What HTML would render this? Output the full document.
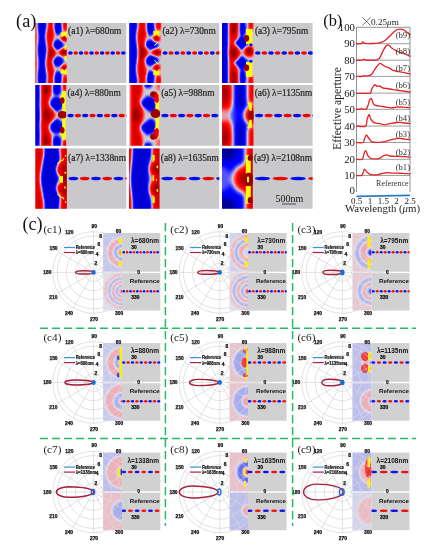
<!DOCTYPE html>
<html><head><meta charset="utf-8"><style>
html,body{margin:0;padding:0;background:#fff;}
body{width:433px;height:550px;overflow:hidden;font-family:"Liberation Serif",serif;}
svg{display:block;will-change:transform;}
</style></head><body>
<svg width="433" height="550" viewBox="0 0 433 550">
<defs>
<filter id="cmap" x="-10%" y="-10%" width="120%" height="120%" color-interpolation-filters="sRGB"><feGaussianBlur stdDeviation="1.4"/><feComponentTransfer><feFuncR type="table" tableValues="0.0 0.0 0.0 0.0 0.0 0.0 0.008 0.039 0.078 0.123 0.171 0.224 0.279 0.337 0.397 0.459 0.524 0.59 0.659 0.729 0.8 0.835 0.869 0.904 0.939 0.974 1.0 1.0 1.0 1.0 1.0 1.0 1.0 1.0 1.0 1.0 0.933 0.85 0.767 0.683 0.6"/><feFuncG type="table" tableValues="0.0 0.0 0.0 0.0 0.0 0.0 0.008 0.039 0.078 0.123 0.171 0.224 0.279 0.337 0.397 0.459 0.524 0.59 0.659 0.729 0.8 0.729 0.659 0.59 0.524 0.459 0.397 0.337 0.279 0.224 0.171 0.123 0.078 0.039 0.008 0.0 0.0 0.0 0.0 0.0 0.0"/><feFuncB type="table" tableValues="0.6 0.683 0.767 0.85 0.933 1.0 1.0 1.0 1.0 1.0 1.0 1.0 1.0 1.0 1.0 0.978 0.948 0.919 0.889 0.86 0.83 0.756 0.683 0.613 0.544 0.477 0.412 0.349 0.289 0.232 0.178 0.127 0.081 0.04 0.008 0.0 0.0 0.0 0.0 0.0 0.0"/></feComponentTransfer></filter>
<filter id="cmapS" x="-10%" y="-10%" width="120%" height="120%" color-interpolation-filters="sRGB"><feGaussianBlur stdDeviation="2.4"/><feComponentTransfer><feFuncR type="table" tableValues="0.0 0.0 0.0 0.0 0.0 0.0 0.008 0.039 0.078 0.123 0.171 0.224 0.279 0.337 0.397 0.459 0.524 0.59 0.659 0.729 0.8 0.835 0.869 0.904 0.939 0.974 1.0 1.0 1.0 1.0 1.0 1.0 1.0 1.0 1.0 1.0 0.933 0.85 0.767 0.683 0.6"/><feFuncG type="table" tableValues="0.0 0.0 0.0 0.0 0.0 0.0 0.008 0.039 0.078 0.123 0.171 0.224 0.279 0.337 0.397 0.459 0.524 0.59 0.659 0.729 0.8 0.729 0.659 0.59 0.524 0.459 0.397 0.337 0.279 0.224 0.171 0.123 0.078 0.039 0.008 0.0 0.0 0.0 0.0 0.0 0.0"/><feFuncB type="table" tableValues="0.6 0.683 0.767 0.85 0.933 1.0 1.0 1.0 1.0 1.0 1.0 1.0 1.0 1.0 1.0 0.978 0.948 0.919 0.889 0.86 0.83 0.756 0.683 0.613 0.544 0.477 0.412 0.349 0.289 0.232 0.178 0.127 0.081 0.04 0.008 0.0 0.0 0.0 0.0 0.0 0.0"/></feComponentTransfer></filter>
<filter id="cmapP" x="-10%" y="-10%" width="120%" height="120%" color-interpolation-filters="sRGB"><feGaussianBlur stdDeviation="0.9"/><feComponentTransfer><feFuncR type="table" tableValues="0.157 0.402 0.647 0.676 0.705 0.734 0.763 0.792 0.821 0.85 0.878 0.886 0.894 0.902 0.91 0.918 0.925 0.933 0.941 0.931 0.922"/><feFuncG type="table" tableValues="0.196 0.431 0.667 0.692 0.718 0.743 0.769 0.794 0.82 0.845 0.871 0.844 0.818 0.791 0.765 0.738 0.712 0.685 0.659 0.408 0.157"/><feFuncB type="table" tableValues="0.922 0.927 0.933 0.931 0.929 0.927 0.925 0.924 0.922 0.92 0.918 0.889 0.86 0.831 0.802 0.773 0.744 0.715 0.686 0.431 0.176"/></feComponentTransfer></filter>
<filter id="bl1" x="-20%" y="-20%" width="140%" height="140%"><feGaussianBlur stdDeviation="1"/></filter>
<filter id="bl04" x="-20%" y="-20%" width="140%" height="140%"><feGaussianBlur stdDeviation="0.35"/></filter>
<filter id="bl05" x="-20%" y="-50%" width="140%" height="200%"><feGaussianBlur stdDeviation="0.45"/></filter>
</defs>
<rect width="433" height="550" fill="#fff"/>
<rect x="35.3" y="23.0" width="91.0" height="60.0" fill="#c9c9cc"/>
<clipPath id="fa00"><rect x="0" y="0" width="31.6" height="60.0"/></clipPath>
<g transform="translate(35.3,23.0)" clip-path="url(#fa00)"><g filter="url(#cmap)"><rect x="-4" y="-4" width="39.6" height="68.0" fill="#808080"/><rect x="-3" y="-2" width="4.6" height="64.0" rx="0" fill="#d9d9d9"/><path d="M2.70,-2.00 C2.60,-1.17 1.97,0.33 2.10,3.00 C2.23,5.67 3.50,10.00 3.50,14.00 C3.50,18.00 2.10,22.67 2.10,27.00 C2.10,31.33 3.50,35.67 3.50,40.00 C3.50,44.33 2.23,49.33 2.10,53.00 C1.97,56.67 2.60,60.50 2.70,62.00 L10.60,62.00 C10.72,60.50 11.43,56.67 11.30,53.00 C11.17,49.33 9.80,44.33 9.80,40.00 C9.80,35.67 11.30,31.33 11.30,27.00 C11.30,22.67 9.80,18.00 9.80,14.00 C9.80,10.00 11.17,5.67 11.30,3.00 C11.43,0.33 10.72,-1.17 10.60,-2.00 Z" fill="#121212"/><path d="M12.00,-2.00 C12.08,-1.17 12.67,0.33 12.50,3.00 C12.33,5.67 11.00,10.00 11.00,14.00 C11.00,18.00 12.50,22.67 12.50,27.00 C12.50,31.33 11.00,35.67 11.00,40.00 C11.00,44.33 12.33,49.33 12.50,53.00 C12.67,56.67 12.08,60.50 12.00,62.00 L18.30,62.00 C18.38,60.83 18.63,57.00 18.80,55.00 C18.97,53.00 19.47,51.90 19.30,50.00 C19.13,48.10 17.75,45.77 17.80,43.60 C17.85,41.43 19.13,39.18 19.60,37.00 C20.07,34.82 20.60,32.67 20.60,30.50 C20.60,28.33 20.07,26.42 19.60,24.00 C19.13,21.58 17.85,18.17 17.80,16.00 C17.75,13.83 19.15,13.00 19.30,11.00 C19.45,9.00 18.87,6.17 18.70,4.00 C18.53,1.83 18.37,-1.00 18.30,-2.00 Z" fill="#ebebeb"/><ellipse cx="15.4" cy="30" rx="3" ry="6.5" fill="#ffffff"/><ellipse cx="22.6" cy="4" rx="4.2" ry="8" fill="#121212"/><ellipse cx="22.8" cy="21.8" rx="5.4" ry="5.4" fill="#121212"/><ellipse cx="22.8" cy="38.5" rx="5.4" ry="5.3" fill="#121212"/><ellipse cx="22.6" cy="56" rx="4.2" ry="8" fill="#121212"/><ellipse cx="29.8" cy="2" rx="2.8" ry="6.5" fill="#ebebeb"/><ellipse cx="28.9" cy="15.3" rx="3.3" ry="3.5" fill="#ffffff"/><ellipse cx="28.4" cy="29.2" rx="4.6" ry="4" fill="#ffffff"/><ellipse cx="28.9" cy="44.7" rx="3.3" ry="3.5" fill="#ffffff"/><ellipse cx="29.8" cy="58" rx="2.8" ry="6.5" fill="#ebebeb"/></g><g filter="url(#bl04)"><polygon points="25.2,9.8 31.6,8.6 31.6,15.2 29.3,12.6 26.3,14.6" fill="#ffff00"/><polygon points="25.2,50.2 31.6,51.4 31.6,44.8 29.3,47.4 26.3,45.4" fill="#ffff00"/><rect x="29.2" y="22.4" width="2" height="4.3" rx="0" fill="#ffff00"/><rect x="29.2" y="32.9" width="2" height="4.7" rx="0" fill="#ffff00"/></g></g>
<clipPath id="fd00"><rect x="66.9" y="23.0" width="59.4" height="60.0"/></clipPath>
<g clip-path="url(#fd00)" filter="url(#bl05)"><ellipse cx="70.4" cy="53.0" rx="2.28" ry="1.75" fill="#0008f0"/><ellipse cx="75.7" cy="53.0" rx="2.28" ry="1.75" fill="#f00000"/><ellipse cx="81.0" cy="53.0" rx="2.28" ry="1.75" fill="#0008f0"/><ellipse cx="86.2" cy="53.0" rx="2.28" ry="1.75" fill="#f00000"/><ellipse cx="91.5" cy="53.0" rx="2.28" ry="1.75" fill="#0008f0"/><ellipse cx="96.8" cy="53.0" rx="2.28" ry="1.75" fill="#f00000"/><ellipse cx="102.1" cy="53.0" rx="2.28" ry="1.75" fill="#0008f0"/><ellipse cx="107.4" cy="53.0" rx="2.28" ry="1.75" fill="#f00000"/><ellipse cx="112.7" cy="53.0" rx="2.28" ry="1.75" fill="#0008f0"/><ellipse cx="118.0" cy="53.0" rx="2.28" ry="1.75" fill="#f00000"/><ellipse cx="123.3" cy="53.0" rx="2.28" ry="1.75" fill="#0008f0"/><ellipse cx="128.6" cy="53.0" rx="2.28" ry="1.75" fill="#f00000"/></g>
<text x="68.10000000000001" y="33.8" font-family="Liberation Serif" font-size="9.4" fill="#262626" stroke="#262626" stroke-width="0.22">(a1) λ=680nm</text>
<rect x="129.0" y="23.0" width="90.2" height="60.0" fill="#c9c9cc"/>
<clipPath id="fa01"><rect x="0" y="0" width="32.3" height="60.0"/></clipPath>
<g transform="translate(129.0,23.0)" clip-path="url(#fa01)"><g filter="url(#cmap)"><rect x="-4" y="-4" width="40.3" height="68.0" fill="#808080"/><path d="M0.30,-2.00 C0.30,8.67 0.30,51.33 0.30,62.00 L8.20,62.00 C8.25,61.17 8.72,59.67 8.50,57.00 C8.28,54.33 6.88,50.50 6.90,46.00 C6.92,41.50 8.60,35.33 8.60,30.00 C8.60,24.67 6.92,18.50 6.90,14.00 C6.88,9.50 8.28,5.67 8.50,3.00 C8.72,0.33 8.25,-1.17 8.20,-2.00 Z" fill="#121212"/><path d="M9.20,-2.00 C9.25,-1.17 9.65,0.33 9.50,3.00 C9.35,5.67 8.32,9.50 8.30,14.00 C8.28,18.50 9.40,24.67 9.40,30.00 C9.40,35.33 8.28,41.50 8.30,46.00 C8.32,50.50 9.35,54.33 9.50,57.00 C9.65,59.67 9.25,61.17 9.20,62.00 L16.50,62.00 C16.57,60.83 16.68,57.17 16.90,55.00 C17.12,52.83 17.93,51.00 17.80,49.00 C17.67,47.00 16.27,45.00 16.10,43.00 C15.93,41.00 16.32,39.25 16.80,37.00 C17.28,34.75 19.00,32.00 19.00,29.50 C19.00,27.00 17.28,24.25 16.80,22.00 C16.32,19.75 15.92,17.83 16.10,16.00 C16.28,14.17 17.77,12.83 17.90,11.00 C18.03,9.17 17.13,7.17 16.90,5.00 C16.67,2.83 16.57,-0.83 16.50,-2.00 Z" fill="#ebebeb"/><ellipse cx="13" cy="30" rx="3" ry="6.5" fill="#ffffff"/><ellipse cx="21.5" cy="4.5" rx="4" ry="8.5" fill="#121212"/><ellipse cx="22.6" cy="21.8" rx="6.6" ry="5" fill="#121212"/><ellipse cx="22.6" cy="37.6" rx="6.6" ry="5.3" fill="#121212"/><ellipse cx="21.5" cy="55.5" rx="4" ry="8" fill="#121212"/><ellipse cx="29.5" cy="2" rx="3" ry="5.8" fill="#ebebeb"/><ellipse cx="27.5" cy="15.5" rx="3.4" ry="3.5" fill="#ffffff"/><ellipse cx="27.8" cy="29.5" rx="5.1" ry="3.7" fill="#ffffff"/><ellipse cx="27.5" cy="44.4" rx="3.4" ry="3.5" fill="#ffffff"/><ellipse cx="29.5" cy="57.5" rx="3" ry="5.8" fill="#ebebeb"/></g><g filter="url(#bl04)"><polygon points="24,8.3 30.3,7.4 30.3,14.2 28,11.5 25.2,13.5" fill="#ffff00"/><polygon points="24,51.7 30.3,52.6 30.3,45.8 28,48.5 25.2,46.5" fill="#ffff00"/><polygon points="25,22.4 28.4,19 29.2,19.6 25.8,23" fill="#ffff00"/><polygon points="25,37.6 28.4,41 29.2,40.4 25.8,37" fill="#ffff00"/></g></g>
<clipPath id="fd01"><rect x="161.3" y="23.0" width="57.900000000000006" height="60.0"/></clipPath>
<g clip-path="url(#fd01)" filter="url(#bl05)"><ellipse cx="165.1" cy="53.0" rx="2.54" ry="1.75" fill="#0008f0"/><ellipse cx="171.0" cy="53.0" rx="2.54" ry="1.75" fill="#f00000"/><ellipse cx="176.9" cy="53.0" rx="2.54" ry="1.75" fill="#0008f0"/><ellipse cx="182.8" cy="53.0" rx="2.54" ry="1.75" fill="#f00000"/><ellipse cx="188.7" cy="53.0" rx="2.54" ry="1.75" fill="#0008f0"/><ellipse cx="194.6" cy="53.0" rx="2.54" ry="1.75" fill="#f00000"/><ellipse cx="200.5" cy="53.0" rx="2.54" ry="1.75" fill="#0008f0"/><ellipse cx="206.4" cy="53.0" rx="2.54" ry="1.75" fill="#f00000"/><ellipse cx="212.3" cy="53.0" rx="2.54" ry="1.75" fill="#0008f0"/><ellipse cx="218.2" cy="53.0" rx="2.54" ry="1.75" fill="#f00000"/></g>
<text x="162.5" y="33.8" font-family="Liberation Serif" font-size="9.4" fill="#262626" stroke="#262626" stroke-width="0.22">(a2) λ=730nm</text>
<rect x="222.0" y="23.0" width="90.6" height="60.0" fill="#c9c9cc"/>
<clipPath id="fa02"><rect x="0" y="0" width="31.7" height="60.0"/></clipPath>
<g transform="translate(222.0,23.0)" clip-path="url(#fa02)"><g filter="url(#cmap)"><rect x="-4" y="-4" width="39.7" height="68.0" fill="#808080"/><path d="M-2.00,-2.00 C-2.00,8.67 -2.00,51.33 -2.00,62.00 L6.40,62.00 C6.45,60.33 6.80,55.33 6.70,52.00 C6.60,48.67 5.78,45.67 5.80,42.00 C5.82,38.33 6.80,34.00 6.80,30.00 C6.80,26.00 5.82,21.67 5.80,18.00 C5.78,14.33 6.60,11.33 6.70,8.00 C6.80,4.67 6.45,-0.33 6.40,-2.00 Z" fill="#121212"/><path d="M7.00,-2.00 C6.97,0.00 6.70,6.67 6.80,10.00 C6.90,13.33 7.70,14.67 7.60,18.00 C7.50,21.33 6.20,26.00 6.20,30.00 C6.20,34.00 7.50,38.67 7.60,42.00 C7.70,45.33 6.90,46.67 6.80,50.00 C6.70,53.33 6.97,60.00 7.00,62.00 L16.80,62.00 C16.78,60.33 16.98,55.17 16.70,52.00 C16.42,48.83 15.15,45.67 15.10,43.00 C15.05,40.33 15.85,38.17 16.40,36.00 C16.95,33.83 18.40,32.00 18.40,30.00 C18.40,28.00 16.95,26.17 16.40,24.00 C15.85,21.83 15.05,19.67 15.10,17.00 C15.15,14.33 16.42,11.17 16.70,8.00 C16.98,4.83 16.78,-0.33 16.80,-2.00 Z" fill="#ebebeb"/><ellipse cx="11.4" cy="5" rx="3" ry="6" fill="#ffffff"/><ellipse cx="11.5" cy="30" rx="3.8" ry="6.5" fill="#ffffff"/><ellipse cx="11.4" cy="55" rx="3" ry="6" fill="#ffffff"/><ellipse cx="20.5" cy="5" rx="3.3" ry="8.5" fill="#121212"/><polygon points="19.8,12.4 27.6,20 19.8,27.4 11.8,20" fill="#121212"/><polygon points="19.8,32.6 27.6,40 19.8,47.6 11.8,40" fill="#121212"/><ellipse cx="20.5" cy="55" rx="3.3" ry="8.5" fill="#121212"/><ellipse cx="27.2" cy="28.4" rx="5.3" ry="5.4" fill="#ebebeb"/><ellipse cx="27.6" cy="28.4" rx="3.6" ry="3.8" fill="#ffffff"/><ellipse cx="29" cy="2" rx="2.4" ry="5.2" fill="#ebebeb"/><ellipse cx="29" cy="58" rx="2.4" ry="5.2" fill="#ebebeb"/></g><g filter="url(#bl04)"><rect x="24" y="6" width="6.3" height="15.3" rx="0" fill="#ffff00"/><rect x="24" y="38.7" width="6.3" height="15.3" rx="0" fill="#ffff00"/><ellipse cx="24.6" cy="15.2" rx="2.6" ry="3.2" fill="#9c0000"/><ellipse cx="24.6" cy="44.8" rx="2.6" ry="3.2" fill="#9c0000"/><ellipse cx="28.9" cy="21.8" rx="1.6" ry="1.5" fill="#0008f0"/><ellipse cx="28.9" cy="38.2" rx="1.6" ry="1.5" fill="#0008f0"/></g></g>
<clipPath id="fd02"><rect x="253.7" y="23.0" width="58.89999999999999" height="60.0"/></clipPath>
<g clip-path="url(#fd02)" filter="url(#bl05)"><ellipse cx="257.8" cy="53.0" rx="2.84" ry="1.75" fill="#0008f0"/><ellipse cx="264.4" cy="53.0" rx="2.84" ry="1.75" fill="#f00000"/><ellipse cx="271.0" cy="53.0" rx="2.84" ry="1.75" fill="#0008f0"/><ellipse cx="277.6" cy="53.0" rx="2.84" ry="1.75" fill="#f00000"/><ellipse cx="284.2" cy="53.0" rx="2.84" ry="1.75" fill="#0008f0"/><ellipse cx="290.8" cy="53.0" rx="2.84" ry="1.75" fill="#f00000"/><ellipse cx="297.4" cy="53.0" rx="2.84" ry="1.75" fill="#0008f0"/><ellipse cx="304.0" cy="53.0" rx="2.84" ry="1.75" fill="#f00000"/><ellipse cx="310.6" cy="53.0" rx="2.84" ry="1.75" fill="#0008f0"/></g>
<text x="254.89999999999998" y="33.8" font-family="Liberation Serif" font-size="9.4" fill="#262626" stroke="#262626" stroke-width="0.22">(a3) λ=795nm</text>
<rect x="35.3" y="85.0" width="91.0" height="60.8" fill="#c9c9cc"/>
<clipPath id="fa10"><rect x="0" y="0" width="30.9" height="60.8"/></clipPath>
<g transform="translate(35.3,85.0)" clip-path="url(#fa10)"><g filter="url(#cmap)"><rect x="-4" y="-4" width="38.9" height="68.8" fill="#808080"/><path d="M-4.00,-4.00 C-4.00,7.33 -4.00,52.67 -4.00,64.00 L4.20,64.00 C4.27,61.67 4.60,54.00 4.60,50.00 C4.60,46.00 4.13,43.33 4.20,40.00 C4.27,36.67 5.00,33.33 5.00,30.00 C5.00,26.67 4.27,23.33 4.20,20.00 C4.13,16.67 4.60,14.00 4.60,10.00 C4.60,6.00 4.27,-1.67 4.20,-4.00 Z" fill="#121212"/><path d="M5.60,-4.00 C5.60,7.33 5.60,52.67 5.60,64.00 L16.20,64.00 C16.30,62.67 16.92,58.33 16.80,56.00 C16.68,53.67 16.00,51.83 15.50,50.00 C15.00,48.17 14.18,46.33 13.80,45.00 C13.42,43.67 12.92,43.17 13.20,42.00 C13.48,40.83 14.40,40.00 15.50,38.00 C16.60,36.00 19.80,32.67 19.80,30.00 C19.80,27.33 16.60,24.00 15.50,22.00 C14.40,20.00 13.48,19.17 13.20,18.00 C12.92,16.83 13.42,16.33 13.80,15.00 C14.18,13.67 15.00,11.83 15.50,10.00 C16.00,8.17 16.68,6.33 16.80,4.00 C16.92,1.67 16.30,-2.67 16.20,-4.00 Z" fill="#ebebeb"/><ellipse cx="10.5" cy="5" rx="3.2" ry="5" fill="#ffffff"/><ellipse cx="11.5" cy="30" rx="3.6" ry="6" fill="#ffffff"/><ellipse cx="10.5" cy="55" rx="3.2" ry="5" fill="#ffffff"/><ellipse cx="21.5" cy="3.5" rx="4.4" ry="7" fill="#121212"/><polygon points="20.5,11.5 27.5,14.5 27.5,22 22,27 14.5,21 15.5,15" fill="#121212"/><polygon points="20.5,49 27.5,46 27.5,38.5 22,33.5 14.5,39.5 15.5,45.5" fill="#121212"/><ellipse cx="21.5" cy="57.5" rx="4.4" ry="7" fill="#121212"/><rect x="27.5" y="-4" width="5" height="10" rx="0" fill="#ebebeb"/><rect x="27.5" y="55" width="5" height="10" rx="0" fill="#ebebeb"/></g><g filter="url(#bl04)"><polygon points="26.9,6 30.3,6 30.3,55 26.9,55 26.5,51 24.6,49 24.8,45 26.9,42 26.9,34 25.5,33 25.5,27.5 26.9,26.5 26.9,19 24.8,16 24.6,12 26.5,9.5" fill="#ffff00"/><ellipse cx="26.9" cy="15.5" rx="2.3" ry="3.3" fill="#9c0000"/><ellipse cx="26.9" cy="45.3" rx="2.3" ry="3.3" fill="#9c0000"/><ellipse cx="27" cy="29.8" rx="4.5" ry="3.7" fill="#9c0000"/></g></g>
<clipPath id="fd10"><rect x="66.19999999999999" y="85.0" width="60.1" height="60.8"/></clipPath>
<g clip-path="url(#fd10)" filter="url(#bl05)"><ellipse cx="70.6" cy="115.4" rx="3.14" ry="1.75" fill="#0008f0"/><ellipse cx="77.9" cy="115.4" rx="3.14" ry="1.75" fill="#f00000"/><ellipse cx="85.2" cy="115.4" rx="3.14" ry="1.75" fill="#0008f0"/><ellipse cx="92.5" cy="115.4" rx="3.14" ry="1.75" fill="#f00000"/><ellipse cx="99.8" cy="115.4" rx="3.14" ry="1.75" fill="#0008f0"/><ellipse cx="107.1" cy="115.4" rx="3.14" ry="1.75" fill="#f00000"/><ellipse cx="114.4" cy="115.4" rx="3.14" ry="1.75" fill="#0008f0"/><ellipse cx="121.7" cy="115.4" rx="3.14" ry="1.75" fill="#f00000"/><ellipse cx="129.0" cy="115.4" rx="3.14" ry="1.75" fill="#0008f0"/></g>
<text x="67.39999999999999" y="96.3" font-family="Liberation Serif" font-size="9.4" fill="#262626" stroke="#262626" stroke-width="0.22">(a4) λ=880nm</text>
<rect x="129.0" y="85.0" width="90.2" height="60.8" fill="#c9c9cc"/>
<clipPath id="fa11"><rect x="0" y="0" width="31.0" height="60.8"/></clipPath>
<g transform="translate(129.0,85.0)" clip-path="url(#fa11)"><g filter="url(#cmap)"><rect x="-4" y="-4" width="39.0" height="68.8" fill="#808080"/><rect x="-4" y="-4" width="4.6" height="68.8" rx="0" fill="#4c4c4c"/><path d="M1.40,-4.00 C1.40,7.33 1.40,52.67 1.40,64.00 L13.30,64.00 C13.30,62.50 13.55,57.67 13.30,55.00 C13.05,52.33 12.28,50.00 11.80,48.00 C11.32,46.00 10.20,44.83 10.40,43.00 C10.60,41.17 12.30,39.27 13.00,37.00 C13.70,34.73 14.60,31.90 14.60,29.40 C14.60,26.90 13.70,24.13 13.00,22.00 C12.30,19.87 10.60,18.27 10.40,16.60 C10.20,14.93 11.32,13.77 11.80,12.00 C12.28,10.23 13.05,8.67 13.30,6.00 C13.55,3.33 13.30,-2.33 13.30,-4.00 Z" fill="#ebebeb"/><ellipse cx="7" cy="30" rx="3.8" ry="7.5" fill="#ffffff"/><ellipse cx="19" cy="0" rx="3.8" ry="2.8" fill="#121212"/><polygon points="18.5,11 26.5,14 26.5,24 22,27.5 12,20 13,16" fill="#121212"/><polygon points="18.5,50 26.5,47 26.5,37 22,33.5 12,41 13,45" fill="#121212"/><ellipse cx="19" cy="61" rx="3.8" ry="3.3" fill="#121212"/><rect x="27.5" y="-4" width="5" height="9" rx="0" fill="#acacac"/><rect x="27.5" y="54" width="5" height="10" rx="0" fill="#acacac"/></g><g filter="url(#bl04)"><polygon points="25.4,8.3 29.9,8.3 29.9,53.3 25.4,53.3 25.4,44 26.5,42 26.5,34 25,33 25,28 26.5,27 26.5,19 25.4,17" fill="#ffff00"/><polygon points="21,9 24,6.2 27.5,7 29.5,10 29.9,16 28,18.3 25,16 24.5,12.5 22,12" fill="#f00000"/><polygon points="21,52 24,54.8 27.5,54 29.5,51 29.9,45 28,42.7 25,45 24.5,48.5 22,49" fill="#f00000"/><ellipse cx="23.8" cy="9.3" rx="2.6" ry="2.8" fill="#9c0000"/><ellipse cx="23.8" cy="51.7" rx="2.6" ry="2.8" fill="#9c0000"/><ellipse cx="26.5" cy="28.6" rx="5" ry="4.5" fill="#9c0000"/></g></g>
<clipPath id="fd11"><rect x="160.0" y="85.0" width="59.2" height="60.8"/></clipPath>
<g clip-path="url(#fd11)" filter="url(#bl05)"><ellipse cx="165.0" cy="115.4" rx="3.57" ry="1.75" fill="#0008f0"/><ellipse cx="173.3" cy="115.4" rx="3.57" ry="1.75" fill="#f00000"/><ellipse cx="181.6" cy="115.4" rx="3.57" ry="1.75" fill="#0008f0"/><ellipse cx="189.9" cy="115.4" rx="3.57" ry="1.75" fill="#f00000"/><ellipse cx="198.2" cy="115.4" rx="3.57" ry="1.75" fill="#0008f0"/><ellipse cx="206.5" cy="115.4" rx="3.57" ry="1.75" fill="#f00000"/><ellipse cx="214.8" cy="115.4" rx="3.57" ry="1.75" fill="#0008f0"/></g>
<text x="161.2" y="96.3" font-family="Liberation Serif" font-size="9.4" fill="#262626" stroke="#262626" stroke-width="0.22">(a5) λ=988nm</text>
<rect x="222.0" y="85.0" width="90.6" height="60.8" fill="#c9c9cc"/>
<clipPath id="fa12"><rect x="0" y="0" width="31.5" height="60.8"/></clipPath>
<g transform="translate(222.0,85.0)" clip-path="url(#fa12)"><g filter="url(#cmapS)"><rect x="-4" y="-4" width="39.5" height="68.8" fill="#808080"/><path d="M-4.00,-4.00 C-4.00,7.33 -4.00,52.67 -4.00,64.00 L10.30,64.00 C10.35,61.67 10.73,53.50 10.60,50.00 C10.47,46.50 10.02,45.17 9.50,43.00 C8.98,40.83 8.00,39.10 7.50,37.00 C7.00,34.90 6.50,32.57 6.50,30.40 C6.50,28.23 7.00,26.07 7.50,24.00 C8.00,21.93 8.98,20.33 9.50,18.00 C10.02,15.67 10.47,13.67 10.60,10.00 C10.73,6.33 10.35,-1.67 10.30,-4.00 Z" fill="#ededed"/><ellipse cx="4" cy="8" rx="4" ry="7" fill="#ffffff"/><ellipse cx="4" cy="52.5" rx="4" ry="7" fill="#ffffff"/><ellipse cx="0" cy="30.4" rx="10" ry="7" fill="#8f8f8f"/><path d="M11.30,-4.00 C11.33,-1.00 11.33,9.67 11.50,14.00 C11.67,18.33 11.97,19.27 12.30,22.00 C12.63,24.73 13.50,27.57 13.50,30.40 C13.50,33.23 12.63,36.40 12.30,39.00 C11.97,41.60 11.67,41.83 11.50,46.00 C11.33,50.17 11.33,61.00 11.30,64.00 L25.50,64.00 C25.50,52.67 25.50,7.33 25.50,-4.00 Z" fill="#0d0d0d"/><ellipse cx="13" cy="30.4" rx="4" ry="9" fill="#393939"/><ellipse cx="30.5" cy="30.2" rx="9.8" ry="11" fill="#808080"/><ellipse cx="31" cy="30.2" rx="8" ry="9" fill="#f2f2f2"/><rect x="25.6" y="-4" width="9" height="21.5" rx="0" fill="#ededed"/><rect x="25.6" y="43" width="9" height="22" rx="0" fill="#ededed"/></g><g filter="url(#bl04)"><polygon points="24.5,17.5 29.8,17.5 29.8,26.6 27,25 26.6,19.5" fill="#ffff00"/><polygon points="24.5,42.8 29.8,42.8 29.8,33.8 27,35.4 26.6,41" fill="#ffff00"/><ellipse cx="29.5" cy="30.2" rx="3.5" ry="4.5" fill="#9c0000"/></g></g>
<clipPath id="fd12"><rect x="253.5" y="85.0" width="59.099999999999994" height="60.8"/></clipPath>
<g clip-path="url(#fd12)" filter="url(#bl05)"><ellipse cx="259.1" cy="115.4" rx="4.08" ry="1.75" fill="#0008f0"/><ellipse cx="268.6" cy="115.4" rx="4.08" ry="1.75" fill="#f00000"/><ellipse cx="278.1" cy="115.4" rx="4.08" ry="1.75" fill="#0008f0"/><ellipse cx="287.6" cy="115.4" rx="4.08" ry="1.75" fill="#f00000"/><ellipse cx="297.1" cy="115.4" rx="4.08" ry="1.75" fill="#0008f0"/><ellipse cx="306.6" cy="115.4" rx="4.08" ry="1.75" fill="#f00000"/><ellipse cx="316.1" cy="115.4" rx="4.08" ry="1.75" fill="#0008f0"/></g>
<text x="254.7" y="96.3" font-family="Liberation Serif" font-size="9.4" fill="#262626" stroke="#262626" stroke-width="0.22">(a6) λ=1135nm</text>
<rect x="35.3" y="148.4" width="91.0" height="60.3" fill="#c9c9cc"/>
<clipPath id="fa20"><rect x="0" y="0" width="31.6" height="60.3"/></clipPath>
<g transform="translate(35.3,148.4)" clip-path="url(#fa20)"><g filter="url(#cmap)"><rect x="-4" y="-4" width="39.6" height="68.3" fill="#808080"/><path d="M-4.00,-4.00 C-4.00,7.17 -4.00,51.83 -4.00,63.00 L7.80,64.00 C7.87,62.50 8.40,58.17 8.20,55.00 C8.00,51.83 7.20,49.17 6.60,45.00 C6.00,40.83 4.60,35.00 4.60,30.00 C4.60,25.00 6.00,19.17 6.60,15.00 C7.20,10.83 8.00,8.17 8.20,5.00 C8.40,1.83 7.87,-2.50 7.80,-4.00 Z" fill="#ebebeb"/><rect x="-4" y="-4" width="3.6" height="68.3" rx="0" fill="#bfbfbf"/><path d="M8.60,-4.00 C8.67,-2.50 9.20,1.83 9.00,5.00 C8.80,8.17 8.00,10.83 7.40,15.00 C6.80,19.17 5.40,25.00 5.40,30.00 C5.40,35.00 6.80,40.83 7.40,45.00 C8.00,49.17 8.80,51.83 9.00,55.00 C9.20,58.17 8.67,62.50 8.60,64.00 L23.20,64.00 C23.40,62.33 24.10,56.50 24.40,54.00 C24.70,51.50 25.15,50.33 25.00,49.00 C24.85,47.67 24.13,47.50 23.50,46.00 C22.87,44.50 21.45,42.00 21.20,40.00 C20.95,38.00 21.65,35.67 22.00,34.00 C22.35,32.33 23.30,31.33 23.30,30.00 C23.30,28.67 22.35,27.67 22.00,26.00 C21.65,24.33 20.95,22.00 21.20,20.00 C21.45,18.00 22.87,15.50 23.50,14.00 C24.13,12.50 24.85,12.33 25.00,11.00 C25.15,9.67 24.70,8.50 24.40,6.00 C24.10,3.50 23.40,-2.33 23.20,-4.00 Z" fill="#121212"/><rect x="25.2" y="-4" width="9" height="68.3" rx="0" fill="#ebebeb"/><ellipse cx="27.2" cy="21" rx="5.8" ry="7.2" fill="#ebebeb"/><ellipse cx="27.2" cy="40.3" rx="5.8" ry="6.8" fill="#ebebeb"/><ellipse cx="30" cy="30" rx="2.6" ry="7.5" fill="#ffffff"/><ellipse cx="29.5" cy="19" rx="2.2" ry="3.5" fill="#ffffff"/><ellipse cx="29.5" cy="42" rx="2.2" ry="3.5" fill="#ffffff"/></g><g filter="url(#bl04)"><rect x="24.4" y="27.7" width="3.3" height="6.7" rx="0" fill="#ffff00"/><path d="M22.2,15.5 Q24.5,12.6 26.5,11.6 M27,12.5 L28.8,10 M29.6,8 L31,6.8" stroke="#ffff00" stroke-width="1.1" fill="none"/><path d="M22.2,45.5 Q24.5,48.4 26.5,49.4 M27,48.5 L28.8,51 M29.6,53 L31,54.2" stroke="#ffff00" stroke-width="1.1" fill="none"/><rect x="29.2" y="23.5" width="1.6" height="1.8" rx="0" fill="#ffff00"/><rect x="28.8" y="38.2" width="1.6" height="1.8" rx="0" fill="#ffff00"/><rect x="23" y="26" width="1.2" height="1.5" rx="0" fill="#ffff00"/><rect x="23" y="34.5" width="1.2" height="1.5" rx="0" fill="#ffff00"/></g></g>
<clipPath id="fd20"><rect x="66.9" y="148.4" width="59.4" height="60.3"/></clipPath>
<g clip-path="url(#fd20)" filter="url(#bl05)"><ellipse cx="73.4" cy="178.6" rx="4.86" ry="1.75" fill="#0008f0"/><ellipse cx="84.7" cy="178.6" rx="4.86" ry="1.75" fill="#f00000"/><ellipse cx="96.0" cy="178.6" rx="4.86" ry="1.75" fill="#0008f0"/><ellipse cx="107.2" cy="178.6" rx="4.86" ry="1.75" fill="#f00000"/><ellipse cx="118.5" cy="178.6" rx="4.86" ry="1.75" fill="#0008f0"/><ellipse cx="129.8" cy="178.6" rx="4.86" ry="1.75" fill="#f00000"/></g>
<text x="68.10000000000001" y="160.8" font-family="Liberation Serif" font-size="9.4" fill="#262626" stroke="#262626" stroke-width="0.22">(a7) λ=1338nm</text>
<rect x="129.0" y="148.4" width="90.2" height="60.3" fill="#c9c9cc"/>
<clipPath id="fa21"><rect x="0" y="0" width="30.6" height="60.3"/></clipPath>
<g transform="translate(129.0,148.4)" clip-path="url(#fa21)"><g filter="url(#cmap)"><rect x="-4" y="-4" width="38.6" height="68.3" fill="#808080"/><path d="M-4.00,-4.00 C-4.00,7.33 -4.00,52.67 -4.00,64.00 L3.00,64.00 C2.97,62.00 3.05,56.00 2.80,52.00 C2.55,48.00 1.83,43.67 1.50,40.00 C1.17,36.33 0.80,33.33 0.80,30.00 C0.80,26.67 1.17,23.67 1.50,20.00 C1.83,16.33 2.55,12.00 2.80,8.00 C3.05,4.00 2.97,-2.00 3.00,-4.00 Z" fill="#ebebeb"/><path d="M3.60,-4.00 C3.57,-2.00 3.60,4.00 3.40,8.00 C3.20,12.00 2.67,16.33 2.40,20.00 C2.13,23.67 1.80,26.67 1.80,30.00 C1.80,33.33 2.13,36.33 2.40,40.00 C2.67,43.67 3.20,48.00 3.40,52.00 C3.60,56.00 3.57,62.00 3.60,64.00 L22.60,64.00 C22.53,62.33 22.53,56.67 22.20,54.00 C21.87,51.33 21.10,50.33 20.60,48.00 C20.10,45.67 19.33,43.00 19.20,40.00 C19.07,37.00 19.80,33.33 19.80,30.00 C19.80,26.67 19.07,23.00 19.20,20.00 C19.33,17.00 20.10,14.33 20.60,12.00 C21.10,9.67 21.87,8.67 22.20,6.00 C22.53,3.33 22.53,-2.33 22.60,-4.00 Z" fill="#121212"/><rect x="23.6" y="-4" width="10" height="68.3" rx="0" fill="#ebebeb"/><ellipse cx="26.3" cy="20.5" rx="5.6" ry="8.3" fill="#ebebeb"/><ellipse cx="26.3" cy="40.3" rx="5.6" ry="8.3" fill="#ebebeb"/><ellipse cx="27.5" cy="20.5" rx="2.6" ry="5" fill="#ffffff"/><ellipse cx="27.5" cy="40.3" rx="2.6" ry="5" fill="#ffffff"/></g><g filter="url(#bl04)"><rect x="23.4" y="6.6" width="2.4" height="5.8" rx="0" fill="#ffff00"/><rect x="23.4" y="48.3" width="2.4" height="6.2" rx="0" fill="#ffff00"/><rect x="23.4" y="12.4" width="1.2" height="1.5" rx="0" fill="#ffff00"/><rect x="23.4" y="47" width="1.2" height="1.5" rx="0" fill="#ffff00"/><rect x="23.5" y="26.8" width="1.6" height="5.8" rx="0" fill="#ffff00"/><rect x="27.6" y="17.2" width="1.5" height="2.6" rx="0" fill="#ffff00"/><rect x="27.6" y="40.8" width="1.5" height="2.6" rx="0" fill="#ffff00"/><rect x="26.8" y="30.6" width="1.2" height="1.6" rx="0" fill="#ffff00"/></g></g>
<clipPath id="fd21"><rect x="159.6" y="148.4" width="59.6" height="60.3"/></clipPath>
<g clip-path="url(#fd21)" filter="url(#bl05)"><ellipse cx="167.2" cy="178.6" rx="5.89" ry="1.75" fill="#0008f0"/><ellipse cx="180.9" cy="178.6" rx="5.89" ry="1.75" fill="#f00000"/><ellipse cx="194.6" cy="178.6" rx="5.89" ry="1.75" fill="#0008f0"/><ellipse cx="208.3" cy="178.6" rx="5.89" ry="1.75" fill="#f00000"/><ellipse cx="222.0" cy="178.6" rx="5.89" ry="1.75" fill="#0008f0"/></g>
<text x="160.79999999999998" y="160.8" font-family="Liberation Serif" font-size="9.4" fill="#262626" stroke="#262626" stroke-width="0.22">(a8) λ=1635nm</text>
<rect x="222.0" y="148.4" width="90.6" height="60.3" fill="#c9c9cc"/>
<clipPath id="fa22"><rect x="0" y="0" width="30.8" height="60.3"/></clipPath>
<g transform="translate(222.0,148.4)" clip-path="url(#fa22)"><g filter="url(#cmapS)"><rect x="-4" y="-4" width="38.8" height="68.3" fill="#808080"/><rect x="-4" y="-4" width="30" height="68.3" rx="0" fill="#1c1c1c"/><ellipse cx="4" cy="3" rx="10" ry="9" fill="#000000"/><ellipse cx="4" cy="58" rx="10" ry="9" fill="#000000"/><ellipse cx="-1" cy="30.5" rx="10" ry="13" fill="#535353"/><ellipse cx="24.5" cy="30.5" rx="16" ry="16.5" fill="#808080"/><ellipse cx="24.5" cy="30.5" rx="11.6" ry="11.8" fill="#f0f0f0"/><ellipse cx="25" cy="30.5" rx="6" ry="8" fill="#ffffff"/><rect x="23.4" y="-4" width="12" height="68.3" rx="0" fill="#ededed"/></g><g filter="url(#bl04)"><rect x="23.8" y="6.6" width="5" height="19" rx="0" fill="#ffff00"/><rect x="23.8" y="37.7" width="5" height="17.7" rx="0" fill="#ffff00"/><ellipse cx="28.3" cy="9.6" rx="2.6" ry="3" fill="#9c0000"/><ellipse cx="28.3" cy="52" rx="2.6" ry="3.3" fill="#9c0000"/><polygon points="22.7,27 25,24.4 29,24.4 31.5,27.5 31.5,34.5 29,37.7 25,37.7 22.7,34" fill="#9c0000"/><rect x="25" y="28.3" width="2" height="5.5" rx="0" fill="#ffff00"/></g></g>
<clipPath id="fd22"><rect x="252.8" y="148.4" width="59.8" height="60.3"/></clipPath>
<g clip-path="url(#fd22)" filter="url(#bl05)"><ellipse cx="262.5" cy="178.6" rx="7.65" ry="1.75" fill="#0008f0"/><ellipse cx="280.3" cy="178.6" rx="7.65" ry="1.75" fill="#f00000"/><ellipse cx="298.1" cy="178.6" rx="7.65" ry="1.75" fill="#0008f0"/><ellipse cx="315.9" cy="178.6" rx="7.65" ry="1.75" fill="#f00000"/></g>
<text x="254.0" y="160.8" font-family="Liberation Serif" font-size="9.4" fill="#262626" stroke="#262626" stroke-width="0.22">(a9) λ=2108nm</text>
<text x="16.1" y="26.6" font-family="Liberation Serif" font-size="18.2" fill="#111">(a)</text>
<text x="275.5" y="202.4" font-family="Liberation Serif" font-size="10" fill="#111">500nm</text>
<line x1="282" y1="204" x2="296" y2="204" stroke="#111" stroke-width="0.7"/>
<line x1="356.5" y1="175.50" x2="410.0" y2="175.50" stroke="#767676" stroke-width="0.7"/>
<line x1="356.5" y1="159.30" x2="410.0" y2="159.30" stroke="#767676" stroke-width="0.7"/>
<line x1="356.5" y1="142.50" x2="410.0" y2="142.50" stroke="#767676" stroke-width="0.7"/>
<line x1="356.5" y1="126.10" x2="410.0" y2="126.10" stroke="#767676" stroke-width="0.7"/>
<line x1="356.5" y1="109.30" x2="410.0" y2="109.30" stroke="#767676" stroke-width="0.7"/>
<line x1="356.5" y1="93.10" x2="410.0" y2="93.10" stroke="#767676" stroke-width="0.7"/>
<line x1="356.5" y1="76.40" x2="410.0" y2="76.40" stroke="#767676" stroke-width="0.7"/>
<line x1="356.5" y1="60.20" x2="410.0" y2="60.20" stroke="#767676" stroke-width="0.7"/>
<line x1="356.5" y1="43.70" x2="410.0" y2="43.70" stroke="#767676" stroke-width="0.7"/>
<line x1="356.5" y1="27.30" x2="410.0" y2="27.30" stroke="#767676" stroke-width="0.8"/>
<line x1="356.5" y1="27.30" x2="356.5" y2="192" stroke="#767676" stroke-width="0.8"/>
<line x1="410.0" y1="27.30" x2="410.0" y2="192" stroke="#767676" stroke-width="0.8"/>
<path d="M356.50,175.50 C357.35,175.50 360.52,175.92 361.60,175.50 C362.68,175.08 362.57,174.02 363.00,173.00 C363.43,171.98 363.77,169.85 364.20,169.40 C364.63,168.95 365.13,169.85 365.60,170.30 C366.07,170.75 366.27,171.43 367.00,172.10 C367.73,172.77 368.83,173.83 370.00,174.30 C371.17,174.77 372.83,174.80 374.00,174.90 C375.17,175.00 376.00,175.05 377.00,174.90 C378.00,174.75 378.83,174.30 380.00,174.00 C381.17,173.70 382.67,173.33 384.00,173.10 C385.33,172.87 386.67,172.60 388.00,172.60 C389.33,172.60 390.50,173.00 392.00,173.10 C393.50,173.20 395.17,173.17 397.00,173.20 C398.83,173.23 400.83,173.20 403.00,173.30 C405.17,173.40 408.83,173.72 410.00,173.80" fill="none" stroke="#e2262a" stroke-width="1.35" stroke-linejoin="round" stroke-linecap="round"/>
<text x="410" y="170.10" text-anchor="end" font-family="Liberation Serif" font-size="8.6" fill="#333">(b1)</text>
<path d="M356.50,159.30 C357.45,159.30 360.98,160.10 362.20,159.30 C363.42,158.50 363.28,155.93 363.80,154.50 C364.32,153.07 364.82,151.03 365.30,150.70 C365.78,150.37 366.25,151.63 366.70,152.50 C367.15,153.37 367.28,154.90 368.00,155.90 C368.72,156.90 370.00,158.00 371.00,158.50 C372.00,159.00 372.83,158.85 374.00,158.90 C375.17,158.95 376.83,159.03 378.00,158.80 C379.17,158.57 380.17,157.97 381.00,157.50 C381.83,157.03 382.07,156.45 383.00,156.00 C383.93,155.55 385.43,154.80 386.60,154.80 C387.77,154.80 388.60,155.75 390.00,156.00 C391.40,156.25 393.33,156.25 395.00,156.30 C396.67,156.35 398.33,156.23 400.00,156.30 C401.67,156.37 403.33,156.55 405.00,156.70 C406.67,156.85 409.17,157.12 410.00,157.20" fill="none" stroke="#e2262a" stroke-width="1.35" stroke-linejoin="round" stroke-linecap="round"/>
<text x="410" y="154.60" text-anchor="end" font-family="Liberation Serif" font-size="8.6" fill="#333">(b2)</text>
<path d="M356.50,142.50 C357.57,142.50 361.57,143.08 362.90,142.50 C364.23,141.92 363.95,140.20 364.50,139.00 C365.05,137.80 365.68,135.72 366.20,135.30 C366.72,134.88 367.13,135.97 367.60,136.50 C368.07,137.03 368.27,137.62 369.00,138.50 C369.73,139.38 370.50,141.17 372.00,141.80 C373.50,142.43 375.83,142.33 378.00,142.30 C380.17,142.27 383.00,141.97 385.00,141.60 C387.00,141.23 388.17,140.60 390.00,140.10 C391.83,139.60 394.33,138.90 396.00,138.60 C397.67,138.30 398.50,138.22 400.00,138.30 C401.50,138.38 403.33,138.88 405.00,139.10 C406.67,139.32 409.17,139.52 410.00,139.60" fill="none" stroke="#e2262a" stroke-width="1.35" stroke-linejoin="round" stroke-linecap="round"/>
<text x="410" y="136.80" text-anchor="end" font-family="Liberation Serif" font-size="8.6" fill="#333">(b3)</text>
<path d="M356.50,126.10 C358.00,126.10 363.75,127.12 365.50,126.10 C367.25,125.08 366.45,121.90 367.00,120.00 C367.55,118.10 368.30,115.23 368.80,114.70 C369.30,114.17 369.63,116.02 370.00,116.80 C370.37,117.58 370.42,118.47 371.00,119.40 C371.58,120.33 372.50,121.75 373.50,122.40 C374.50,123.05 375.92,123.08 377.00,123.30 C378.08,123.52 378.67,123.45 380.00,123.70 C381.33,123.95 383.33,124.82 385.00,124.80 C386.67,124.78 388.00,123.98 390.00,123.60 C392.00,123.22 395.33,122.70 397.00,122.50 C398.67,122.30 398.67,122.32 400.00,122.40 C401.33,122.48 403.33,122.80 405.00,123.00 C406.67,123.20 409.17,123.50 410.00,123.60" fill="none" stroke="#e2262a" stroke-width="1.35" stroke-linejoin="round" stroke-linecap="round"/>
<text x="410" y="121.20" text-anchor="end" font-family="Liberation Serif" font-size="8.6" fill="#333">(b4)</text>
<path d="M356.50,109.20 C357.08,109.20 359.15,109.35 360.00,109.20 C360.85,109.05 361.10,108.32 361.60,108.30 C362.10,108.28 362.23,108.97 363.00,109.10 C363.77,109.23 365.37,109.72 366.20,109.10 C367.03,108.48 367.43,106.92 368.00,105.40 C368.57,103.88 369.10,101.15 369.60,100.00 C370.10,98.85 370.57,98.47 371.00,98.50 C371.43,98.53 371.87,99.45 372.20,100.20 C372.53,100.95 372.53,102.17 373.00,103.00 C373.47,103.83 373.83,104.67 375.00,105.20 C376.17,105.73 378.17,105.88 380.00,106.20 C381.83,106.52 384.17,106.82 386.00,107.10 C387.83,107.38 389.17,107.90 391.00,107.90 C392.83,107.90 395.00,107.23 397.00,107.10 C399.00,106.97 400.83,106.98 403.00,107.10 C405.17,107.22 408.83,107.68 410.00,107.80" fill="none" stroke="#e2262a" stroke-width="1.35" stroke-linejoin="round" stroke-linecap="round"/>
<text x="410" y="104.80" text-anchor="end" font-family="Liberation Serif" font-size="8.6" fill="#333">(b5)</text>
<path d="M356.50,93.30 C358.67,93.30 367.08,93.60 369.50,93.30 C371.92,93.00 370.58,92.30 371.00,91.50 C371.42,90.70 371.38,89.62 372.00,88.50 C372.62,87.38 373.87,85.17 374.70,84.80 C375.53,84.43 376.23,86.10 377.00,86.30 C377.77,86.50 378.30,85.72 379.30,86.00 C380.30,86.28 381.72,87.58 383.00,88.00 C384.28,88.42 385.33,88.23 387.00,88.50 C388.67,88.77 390.83,89.25 393.00,89.60 C395.17,89.95 397.17,90.20 400.00,90.60 C402.83,91.00 408.33,91.77 410.00,92.00" fill="none" stroke="#e2262a" stroke-width="1.35" stroke-linejoin="round" stroke-linecap="round"/>
<text x="410" y="87.90" text-anchor="end" font-family="Liberation Serif" font-size="8.6" fill="#333">(b6)</text>
<path d="M356.50,76.40 C357.42,76.40 360.72,76.53 362.00,76.40 C363.28,76.27 363.53,75.63 364.20,75.60 C364.87,75.57 364.90,76.32 366.00,76.20 C367.10,76.08 369.47,75.83 370.80,74.90 C372.13,73.97 372.97,72.03 374.00,70.60 C375.03,69.17 376.00,67.50 377.00,66.30 C378.00,65.10 379.00,63.58 380.00,63.40 C381.00,63.22 382.02,64.62 383.00,65.20 C383.98,65.78 384.95,66.50 385.90,66.90 C386.85,67.30 387.52,67.02 388.70,67.60 C389.88,68.18 391.62,69.80 393.00,70.40 C394.38,71.00 395.33,70.88 397.00,71.20 C398.67,71.52 400.83,71.83 403.00,72.30 C405.17,72.77 408.83,73.72 410.00,74.00" fill="none" stroke="#e2262a" stroke-width="1.35" stroke-linejoin="round" stroke-linecap="round"/>
<text x="410" y="70.80" text-anchor="end" font-family="Liberation Serif" font-size="8.6" fill="#333">(b7)</text>
<path d="M356.50,60.20 C357.42,60.20 360.75,60.38 362.00,60.20 C363.25,60.02 363.33,59.13 364.00,59.10 C364.67,59.07 364.00,59.83 366.00,60.00 C368.00,60.17 373.92,60.30 376.00,60.10 C378.08,59.90 377.83,59.25 378.50,58.80 C379.17,58.35 379.20,58.80 380.00,57.40 C380.80,56.00 382.30,52.30 383.30,50.40 C384.30,48.50 385.23,46.92 386.00,46.00 C386.77,45.08 387.23,44.87 387.90,44.90 C388.57,44.93 389.32,45.63 390.00,46.20 C390.68,46.77 390.83,47.48 392.00,48.30 C393.17,49.12 395.00,50.20 397.00,51.10 C399.00,52.00 401.83,52.85 404.00,53.70 C406.17,54.55 409.00,55.78 410.00,56.20" fill="none" stroke="#e2262a" stroke-width="1.35" stroke-linejoin="round" stroke-linecap="round"/>
<text x="410" y="54.40" text-anchor="end" font-family="Liberation Serif" font-size="8.6" fill="#333">(b8)</text>
<path d="M356.50,43.70 C357.25,43.70 359.93,44.00 361.00,43.70 C362.07,43.40 362.27,41.95 362.90,41.90 C363.53,41.85 363.28,43.13 364.80,43.40 C366.32,43.67 369.80,43.53 372.00,43.50 C374.20,43.47 376.33,43.42 378.00,43.20 C379.67,42.98 380.67,42.77 382.00,42.20 C383.33,41.63 384.37,41.17 386.00,39.80 C387.63,38.43 390.13,35.60 391.80,34.00 C393.47,32.40 394.68,31.02 396.00,30.20 C397.32,29.38 398.53,29.20 399.70,29.10 C400.87,29.00 402.03,29.25 403.00,29.60 C403.97,29.95 404.33,30.38 405.50,31.20 C406.67,32.02 409.25,33.95 410.00,34.50" fill="none" stroke="#e2262a" stroke-width="1.35" stroke-linejoin="round" stroke-linecap="round"/>
<text x="410" y="38.20" text-anchor="end" font-family="Liberation Serif" font-size="8.6" fill="#333">(b9)</text>
<text x="408.5" y="185.6" text-anchor="end" font-family="Liberation Serif" font-size="8" fill="#333">Reference</text>
<text x="355" y="193.70" text-anchor="end" font-family="Liberation Serif" font-size="10.8" fill="#222">0</text>
<text x="355" y="179.20" text-anchor="end" font-family="Liberation Serif" font-size="10.8" fill="#222">10</text>
<text x="355" y="163.00" text-anchor="end" font-family="Liberation Serif" font-size="10.8" fill="#222">20</text>
<text x="355" y="146.20" text-anchor="end" font-family="Liberation Serif" font-size="10.8" fill="#222">30</text>
<text x="355" y="129.80" text-anchor="end" font-family="Liberation Serif" font-size="10.8" fill="#222">40</text>
<text x="355" y="113.00" text-anchor="end" font-family="Liberation Serif" font-size="10.8" fill="#222">50</text>
<text x="355" y="96.80" text-anchor="end" font-family="Liberation Serif" font-size="10.8" fill="#222">60</text>
<text x="355" y="80.10" text-anchor="end" font-family="Liberation Serif" font-size="10.8" fill="#222">70</text>
<text x="355" y="63.90" text-anchor="end" font-family="Liberation Serif" font-size="10.8" fill="#222">80</text>
<text x="355" y="47.40" text-anchor="end" font-family="Liberation Serif" font-size="10.8" fill="#222">90</text>
<text x="355" y="31.00" text-anchor="end" font-family="Liberation Serif" font-size="10.8" fill="#222">100</text>
<path d="M356.5,196.4 L410,195.4" stroke="#2f7cc6" stroke-width="1.7" fill="none"/>
<text x="356.50" y="204" text-anchor="middle" font-family="Liberation Serif" font-size="9" fill="#222">0.5</text>
<text x="369.88" y="204" text-anchor="middle" font-family="Liberation Serif" font-size="9" fill="#222">1</text>
<text x="383.25" y="204" text-anchor="middle" font-family="Liberation Serif" font-size="9" fill="#222">1.5</text>
<text x="396.62" y="204" text-anchor="middle" font-family="Liberation Serif" font-size="9" fill="#222">2</text>
<text x="410.00" y="204" text-anchor="middle" font-family="Liberation Serif" font-size="9" fill="#222">2.5</text>
<text x="382.5" y="212.2" text-anchor="middle" font-family="Liberation Serif" font-size="10.8" fill="#222">Wavelength (<tspan font-style="italic">μ</tspan>m)</text>
<text x="0" y="0" transform="translate(340.6,108.5) rotate(-90)" text-anchor="middle" font-family="Liberation Serif" font-size="11.5" fill="#222">Effective aperture</text>
<text x="323.2" y="26.3" font-family="Liberation Serif" font-size="16.4" fill="#111">(b)</text>
<path d="M362.3,17.2 L370.6,25.6 M370.6,17.2 L362.3,25.6" stroke="#333" stroke-width="0.7"/>
<text x="371" y="25" font-family="Liberation Serif" font-size="9.2" fill="#222">0.25<tspan font-style="italic">μ</tspan>m</text>
<text x="22.6" y="230" font-family="Liberation Serif" font-size="18" fill="#111">(c)</text>
<text x="43.4" y="232.5" font-family="Liberation Serif" font-size="11.2" fill="#222">(c1)</text>
<g fill="none" stroke="#cfcfcf" stroke-width="0.6"><circle cx="93.6" cy="272.4" r="9.1"/><circle cx="93.6" cy="272.4" r="18.2"/><circle cx="93.6" cy="272.4" r="27.3"/><circle cx="93.6" cy="272.4" r="36.4"/><circle cx="93.6" cy="272.4" r="40.8"/><line x1="93.6" y1="272.4" x2="134.40" y2="272.40"/><line x1="93.6" y1="272.4" x2="128.93" y2="252.00"/><line x1="93.6" y1="272.4" x2="114.00" y2="237.07"/><line x1="93.6" y1="272.4" x2="93.60" y2="231.60"/><line x1="93.6" y1="272.4" x2="73.20" y2="237.07"/><line x1="93.6" y1="272.4" x2="58.27" y2="252.00"/><line x1="93.6" y1="272.4" x2="52.80" y2="272.40"/><line x1="93.6" y1="272.4" x2="58.27" y2="292.80"/><line x1="93.6" y1="272.4" x2="73.20" y2="307.73"/><line x1="93.6" y1="272.4" x2="93.60" y2="313.20"/><line x1="93.6" y1="272.4" x2="114.00" y2="307.73"/><line x1="93.6" y1="272.4" x2="128.93" y2="292.80"/></g>
<clipPath id="cf00"><rect x="103.1" y="232.99999999999997" width="19.0" height="38.7"/><rect x="103.1" y="273.09999999999997" width="19.0" height="37.499999999999986"/></clipPath>
<clipPath id="cf00u"><rect x="103.1" y="232.99999999999997" width="19.0" height="38.70000000000002"/></clipPath>
<g clip-path="url(#cf00u)"><g filter="url(#cmapP)"><rect x="100.1" y="229.99999999999997" width="25.0" height="44.70000000000002" fill="#535353"/><circle cx="122.1" cy="252.49999999999997" r="14.5" fill="#dfdfdf"/><circle cx="122.1" cy="252.49999999999997" r="9" fill="#191919"/><circle cx="122.1" cy="252.49999999999997" r="4.5" fill="#f9f9f9"/></g><g filter="url(#bl04)"><rect x="118.5" y="238.5" width="3.5" height="4.5" fill="#ffee00"/><rect x="118.5" y="261.5" width="3.5" height="4.5" fill="#ffee00"/><rect x="120.5" y="249" width="1.6" height="7" fill="#ffee00"/></g></g>
<clipPath id="cf00l"><rect x="103.1" y="273.09999999999997" width="19.0" height="37.5"/></clipPath>
<g clip-path="url(#cf00l)"><g filter="url(#cmapP)"><rect x="100.1" y="270.09999999999997" width="25.0" height="43.5" fill="#808080"/><circle cx="122.1" cy="291.2" r="18" fill="#c6c6c6"/><circle cx="122.1" cy="291.2" r="14.5" fill="#262626"/><circle cx="122.1" cy="291.2" r="11" fill="#dfdfdf"/><circle cx="122.1" cy="291.2" r="7" fill="#202020"/><circle cx="122.1" cy="291.2" r="3.5" fill="#f9f9f9"/></g><g filter="url(#bl04)"></g></g>
<g clip-path="url(#cf00)" fill="none" stroke="#e4e4e4" stroke-width="0.6" opacity="0.8"><circle cx="93.6" cy="272.4" r="9.1"/><circle cx="93.6" cy="272.4" r="18.2"/><circle cx="93.6" cy="272.4" r="27.3"/><circle cx="93.6" cy="272.4" r="36.4"/><circle cx="93.6" cy="272.4" r="40.8"/><line x1="93.6" y1="272.4" x2="134.40" y2="272.40"/><line x1="93.6" y1="272.4" x2="128.93" y2="252.00"/><line x1="93.6" y1="272.4" x2="114.00" y2="237.07"/><line x1="93.6" y1="272.4" x2="93.60" y2="231.60"/><line x1="93.6" y1="272.4" x2="73.20" y2="237.07"/><line x1="93.6" y1="272.4" x2="58.27" y2="252.00"/><line x1="93.6" y1="272.4" x2="52.80" y2="272.40"/><line x1="93.6" y1="272.4" x2="58.27" y2="292.80"/><line x1="93.6" y1="272.4" x2="73.20" y2="307.73"/><line x1="93.6" y1="272.4" x2="93.60" y2="313.20"/><line x1="93.6" y1="272.4" x2="114.00" y2="307.73"/><line x1="93.6" y1="272.4" x2="128.93" y2="292.80"/></g>
<rect x="122.1" y="232.99999999999997" width="38.20000000000002" height="38.7" fill="#d1d1d1"/>
<rect x="122.1" y="273.09999999999997" width="38.20000000000002" height="37.499999999999986" fill="#d1d1d1"/>
<g clip-path="url(#cf00g)"><ellipse cx="123.7" cy="252.3" rx="1.26" ry="1.25" fill="#1010f0"/><ellipse cx="127.1" cy="252.3" rx="1.26" ry="1.25" fill="#f01010"/><ellipse cx="130.5" cy="252.3" rx="1.26" ry="1.25" fill="#1010f0"/><ellipse cx="133.9" cy="252.3" rx="1.26" ry="1.25" fill="#f01010"/><ellipse cx="137.3" cy="252.3" rx="1.26" ry="1.25" fill="#1010f0"/><ellipse cx="140.7" cy="252.3" rx="1.26" ry="1.25" fill="#f01010"/><ellipse cx="144.1" cy="252.3" rx="1.26" ry="1.25" fill="#1010f0"/><ellipse cx="147.5" cy="252.3" rx="1.26" ry="1.25" fill="#f01010"/><ellipse cx="150.9" cy="252.3" rx="1.26" ry="1.25" fill="#1010f0"/><ellipse cx="154.3" cy="252.3" rx="1.26" ry="1.25" fill="#f01010"/><ellipse cx="157.7" cy="252.3" rx="1.26" ry="1.25" fill="#1010f0"/></g>
<g clip-path="url(#cf00g)"><ellipse cx="123.7" cy="291.2" rx="1.26" ry="1.25" fill="#1010f0"/><ellipse cx="127.1" cy="291.2" rx="1.26" ry="1.25" fill="#f01010"/><ellipse cx="130.5" cy="291.2" rx="1.26" ry="1.25" fill="#1010f0"/><ellipse cx="133.9" cy="291.2" rx="1.26" ry="1.25" fill="#f01010"/><ellipse cx="137.3" cy="291.2" rx="1.26" ry="1.25" fill="#1010f0"/><ellipse cx="140.7" cy="291.2" rx="1.26" ry="1.25" fill="#f01010"/><ellipse cx="144.1" cy="291.2" rx="1.26" ry="1.25" fill="#1010f0"/><ellipse cx="147.5" cy="291.2" rx="1.26" ry="1.25" fill="#f01010"/><ellipse cx="150.9" cy="291.2" rx="1.26" ry="1.25" fill="#1010f0"/><ellipse cx="154.3" cy="291.2" rx="1.26" ry="1.25" fill="#f01010"/><ellipse cx="157.7" cy="291.2" rx="1.26" ry="1.25" fill="#1010f0"/></g>
<clipPath id="cf00g"><rect x="122.1" y="232.99999999999997" width="38.20000000000002" height="77.6"/></clipPath>
<text x="159.0" y="243.1" text-anchor="end" font-family="Liberation Sans" font-weight="bold" font-size="6.5" fill="#111">λ=680nm</text>
<text x="159.70000000000002" y="282.9" text-anchor="end" font-family="Liberation Sans" font-weight="bold" font-size="6.2" fill="#111">Reference</text>
<text x="94.2" y="227.8" text-anchor="middle" font-family="Liberation Sans" font-weight="bold" font-size="4.9" fill="#111" stroke="#111" stroke-width="0.25">90</text>
<text x="69.4" y="233.7" text-anchor="middle" font-family="Liberation Sans" font-weight="bold" font-size="4.9" fill="#111" stroke="#111" stroke-width="0.25">120</text>
<text x="53.5" y="249.5" text-anchor="middle" font-family="Liberation Sans" font-weight="bold" font-size="4.9" fill="#111" stroke="#111" stroke-width="0.25">150</text>
<text x="47.3" y="274.1" text-anchor="middle" font-family="Liberation Sans" font-weight="bold" font-size="4.9" fill="#111" stroke="#111" stroke-width="0.25">180</text>
<text x="53.3" y="298.6" text-anchor="middle" font-family="Liberation Sans" font-weight="bold" font-size="4.9" fill="#111" stroke="#111" stroke-width="0.25">210</text>
<text x="69.0" y="314.6" text-anchor="middle" font-family="Liberation Sans" font-weight="bold" font-size="4.9" fill="#111" stroke="#111" stroke-width="0.25">240</text>
<text x="94.0" y="320.5" text-anchor="middle" font-family="Liberation Sans" font-weight="bold" font-size="4.9" fill="#111" stroke="#111" stroke-width="0.25">270</text>
<text x="119.2" y="314.6" text-anchor="middle" font-family="Liberation Sans" font-weight="bold" font-size="4.9" fill="#111" stroke="#111" stroke-width="0.25">300</text>
<text x="135.4" y="298.9" text-anchor="middle" font-family="Liberation Sans" font-weight="bold" font-size="4.9" fill="#111" stroke="#111" stroke-width="0.25">330</text>
<text x="138.6" y="273.6" text-anchor="middle" font-family="Liberation Sans" font-weight="bold" font-size="4.9" fill="#111" stroke="#111" stroke-width="0.25">0</text>
<text x="134.0" y="249.2" text-anchor="middle" font-family="Liberation Sans" font-weight="bold" font-size="4.9" fill="#111" stroke="#111" stroke-width="0.25">30</text>
<text x="118.4" y="233.4" text-anchor="middle" font-family="Liberation Sans" font-weight="bold" font-size="4.9" fill="#111" stroke="#111" stroke-width="0.25">60</text>
<text x="95.8" y="264.9" text-anchor="middle" font-family="Liberation Sans" font-weight="bold" font-size="4.9" fill="#111" stroke="#111" stroke-width="0.25">2</text>
<text x="97.0" y="255.5" text-anchor="middle" font-family="Liberation Sans" font-weight="bold" font-size="4.9" fill="#111" stroke="#111" stroke-width="0.25">4</text>
<text x="98.9" y="246.2" text-anchor="middle" font-family="Liberation Sans" font-weight="bold" font-size="4.9" fill="#111" stroke="#111" stroke-width="0.25">6</text>
<text x="100.7" y="237.5" text-anchor="middle" font-family="Liberation Sans" font-weight="bold" font-size="4.9" fill="#111" stroke="#111" stroke-width="0.25">8</text>
<line x1="63.89999999999999" y1="247.49999999999997" x2="75.0" y2="247.49999999999997" stroke="#3a90dd" stroke-width="1.2"/>
<line x1="63.89999999999999" y1="252.49999999999997" x2="75.0" y2="252.49999999999997" stroke="#b02040" stroke-width="1.2"/>
<text x="75.69999999999999" y="249.2" font-family="Liberation Sans" font-weight="bold" font-size="4.7" fill="#111" stroke="#111" stroke-width="0.2" textLength="19.4" lengthAdjust="spacingAndGlyphs">Reference</text>
<text x="75.69999999999999" y="254.39999999999998" font-family="Liberation Sans" font-weight="bold" font-size="4.7" fill="#111" stroke="#111" stroke-width="0.2" textLength="18" lengthAdjust="spacingAndGlyphs">λ=680nm</text>
<path d="M84.00,270.80 A8.30,1.60 0 0 0 84.00,274.00 A9.20,1.60 0 0 0 84.00,270.80Z" fill="none" stroke="#a8203e" stroke-width="1.4"/>
<ellipse cx="93.6" cy="272.4" rx="2.1" ry="2.4" fill="#1a6ad8"/>
<text x="170.3" y="232.5" font-family="Liberation Serif" font-size="11.2" fill="#222">(c2)</text>
<g fill="none" stroke="#cfcfcf" stroke-width="0.6"><circle cx="219.8" cy="272.4" r="9.1"/><circle cx="219.8" cy="272.4" r="18.2"/><circle cx="219.8" cy="272.4" r="27.3"/><circle cx="219.8" cy="272.4" r="36.4"/><circle cx="219.8" cy="272.4" r="40.8"/><line x1="219.8" y1="272.4" x2="260.60" y2="272.40"/><line x1="219.8" y1="272.4" x2="255.13" y2="252.00"/><line x1="219.8" y1="272.4" x2="240.20" y2="237.07"/><line x1="219.8" y1="272.4" x2="219.80" y2="231.60"/><line x1="219.8" y1="272.4" x2="199.40" y2="237.07"/><line x1="219.8" y1="272.4" x2="184.47" y2="252.00"/><line x1="219.8" y1="272.4" x2="179.00" y2="272.40"/><line x1="219.8" y1="272.4" x2="184.47" y2="292.80"/><line x1="219.8" y1="272.4" x2="199.40" y2="307.73"/><line x1="219.8" y1="272.4" x2="219.80" y2="313.20"/><line x1="219.8" y1="272.4" x2="240.20" y2="307.73"/><line x1="219.8" y1="272.4" x2="255.13" y2="292.80"/></g>
<clipPath id="cf01"><rect x="229.6" y="232.99999999999997" width="18.400000000000006" height="38.7"/><rect x="229.6" y="273.09999999999997" width="18.400000000000006" height="37.499999999999986"/></clipPath>
<clipPath id="cf01u"><rect x="229.6" y="232.99999999999997" width="18.400000000000006" height="38.70000000000002"/></clipPath>
<g clip-path="url(#cf01u)"><g filter="url(#cmapP)"><rect x="226.6" y="229.99999999999997" width="24.400000000000006" height="44.70000000000002" fill="#666666"/><circle cx="248.0" cy="252.49999999999997" r="18" fill="#d9d9d9"/><circle cx="248.0" cy="252.49999999999997" r="14" fill="#202020"/><circle cx="248.0" cy="252.49999999999997" r="10" fill="#dfdfdf"/><circle cx="248.0" cy="252.49999999999997" r="5" fill="#666666"/></g><g filter="url(#bl04)"><rect x="244.5" y="237.5" width="3.5" height="4.5" fill="#ffee00"/><rect x="244.5" y="262" width="3.5" height="4.5" fill="#ffee00"/><rect x="246" y="246" width="1.5" height="2" fill="#ffee00"/><rect x="246" y="257" width="1.5" height="2" fill="#ffee00"/></g></g>
<clipPath id="cf01l"><rect x="229.6" y="273.09999999999997" width="18.400000000000006" height="37.5"/></clipPath>
<g clip-path="url(#cf01l)"><g filter="url(#cmapP)"><rect x="226.6" y="270.09999999999997" width="24.400000000000006" height="43.5" fill="#808080"/><circle cx="248.0" cy="291.2" r="19" fill="#c6c6c6"/><circle cx="248.0" cy="291.2" r="16" fill="#262626"/><circle cx="248.0" cy="291.2" r="12" fill="#dfdfdf"/><circle cx="248.0" cy="291.2" r="8" fill="#202020"/><circle cx="248.0" cy="291.2" r="4" fill="#f9f9f9"/></g><g filter="url(#bl04)"></g></g>
<g clip-path="url(#cf01)" fill="none" stroke="#e4e4e4" stroke-width="0.6" opacity="0.8"><circle cx="219.8" cy="272.4" r="9.1"/><circle cx="219.8" cy="272.4" r="18.2"/><circle cx="219.8" cy="272.4" r="27.3"/><circle cx="219.8" cy="272.4" r="36.4"/><circle cx="219.8" cy="272.4" r="40.8"/><line x1="219.8" y1="272.4" x2="260.60" y2="272.40"/><line x1="219.8" y1="272.4" x2="255.13" y2="252.00"/><line x1="219.8" y1="272.4" x2="240.20" y2="237.07"/><line x1="219.8" y1="272.4" x2="219.80" y2="231.60"/><line x1="219.8" y1="272.4" x2="199.40" y2="237.07"/><line x1="219.8" y1="272.4" x2="184.47" y2="252.00"/><line x1="219.8" y1="272.4" x2="179.00" y2="272.40"/><line x1="219.8" y1="272.4" x2="184.47" y2="292.80"/><line x1="219.8" y1="272.4" x2="199.40" y2="307.73"/><line x1="219.8" y1="272.4" x2="219.80" y2="313.20"/><line x1="219.8" y1="272.4" x2="240.20" y2="307.73"/><line x1="219.8" y1="272.4" x2="255.13" y2="292.80"/></g>
<rect x="248.0" y="232.99999999999997" width="38.60000000000002" height="38.7" fill="#d1d1d1"/>
<rect x="248.0" y="273.09999999999997" width="38.60000000000002" height="37.499999999999986" fill="#d1d1d1"/>
<g clip-path="url(#cf01g)"><ellipse cx="249.6" cy="252.3" rx="1.35" ry="1.25" fill="#1010f0"/><ellipse cx="253.2" cy="252.3" rx="1.35" ry="1.25" fill="#f01010"/><ellipse cx="256.9" cy="252.3" rx="1.35" ry="1.25" fill="#1010f0"/><ellipse cx="260.5" cy="252.3" rx="1.35" ry="1.25" fill="#f01010"/><ellipse cx="264.2" cy="252.3" rx="1.35" ry="1.25" fill="#1010f0"/><ellipse cx="267.8" cy="252.3" rx="1.35" ry="1.25" fill="#f01010"/><ellipse cx="271.5" cy="252.3" rx="1.35" ry="1.25" fill="#1010f0"/><ellipse cx="275.1" cy="252.3" rx="1.35" ry="1.25" fill="#f01010"/><ellipse cx="278.8" cy="252.3" rx="1.35" ry="1.25" fill="#1010f0"/><ellipse cx="282.4" cy="252.3" rx="1.35" ry="1.25" fill="#f01010"/><ellipse cx="286.1" cy="252.3" rx="1.35" ry="1.25" fill="#1010f0"/></g>
<g clip-path="url(#cf01g)"><ellipse cx="249.6" cy="291.2" rx="1.35" ry="1.25" fill="#1010f0"/><ellipse cx="253.2" cy="291.2" rx="1.35" ry="1.25" fill="#f01010"/><ellipse cx="256.9" cy="291.2" rx="1.35" ry="1.25" fill="#1010f0"/><ellipse cx="260.5" cy="291.2" rx="1.35" ry="1.25" fill="#f01010"/><ellipse cx="264.2" cy="291.2" rx="1.35" ry="1.25" fill="#1010f0"/><ellipse cx="267.8" cy="291.2" rx="1.35" ry="1.25" fill="#f01010"/><ellipse cx="271.5" cy="291.2" rx="1.35" ry="1.25" fill="#1010f0"/><ellipse cx="275.1" cy="291.2" rx="1.35" ry="1.25" fill="#f01010"/><ellipse cx="278.8" cy="291.2" rx="1.35" ry="1.25" fill="#1010f0"/><ellipse cx="282.4" cy="291.2" rx="1.35" ry="1.25" fill="#f01010"/><ellipse cx="286.1" cy="291.2" rx="1.35" ry="1.25" fill="#1010f0"/></g>
<clipPath id="cf01g"><rect x="248.0" y="232.99999999999997" width="38.60000000000002" height="77.6"/></clipPath>
<text x="285.3" y="243.1" text-anchor="end" font-family="Liberation Sans" font-weight="bold" font-size="6.5" fill="#111">λ=730nm</text>
<text x="286.0" y="282.9" text-anchor="end" font-family="Liberation Sans" font-weight="bold" font-size="6.2" fill="#111">Reference</text>
<text x="220.4" y="227.8" text-anchor="middle" font-family="Liberation Sans" font-weight="bold" font-size="4.9" fill="#111" stroke="#111" stroke-width="0.25">90</text>
<text x="195.6" y="233.7" text-anchor="middle" font-family="Liberation Sans" font-weight="bold" font-size="4.9" fill="#111" stroke="#111" stroke-width="0.25">120</text>
<text x="179.7" y="249.5" text-anchor="middle" font-family="Liberation Sans" font-weight="bold" font-size="4.9" fill="#111" stroke="#111" stroke-width="0.25">150</text>
<text x="173.5" y="274.1" text-anchor="middle" font-family="Liberation Sans" font-weight="bold" font-size="4.9" fill="#111" stroke="#111" stroke-width="0.25">180</text>
<text x="179.5" y="298.6" text-anchor="middle" font-family="Liberation Sans" font-weight="bold" font-size="4.9" fill="#111" stroke="#111" stroke-width="0.25">210</text>
<text x="195.2" y="314.6" text-anchor="middle" font-family="Liberation Sans" font-weight="bold" font-size="4.9" fill="#111" stroke="#111" stroke-width="0.25">240</text>
<text x="220.2" y="320.5" text-anchor="middle" font-family="Liberation Sans" font-weight="bold" font-size="4.9" fill="#111" stroke="#111" stroke-width="0.25">270</text>
<text x="245.4" y="314.6" text-anchor="middle" font-family="Liberation Sans" font-weight="bold" font-size="4.9" fill="#111" stroke="#111" stroke-width="0.25">300</text>
<text x="261.6" y="298.9" text-anchor="middle" font-family="Liberation Sans" font-weight="bold" font-size="4.9" fill="#111" stroke="#111" stroke-width="0.25">330</text>
<text x="264.8" y="273.6" text-anchor="middle" font-family="Liberation Sans" font-weight="bold" font-size="4.9" fill="#111" stroke="#111" stroke-width="0.25">0</text>
<text x="260.2" y="249.2" text-anchor="middle" font-family="Liberation Sans" font-weight="bold" font-size="4.9" fill="#111" stroke="#111" stroke-width="0.25">30</text>
<text x="244.6" y="233.4" text-anchor="middle" font-family="Liberation Sans" font-weight="bold" font-size="4.9" fill="#111" stroke="#111" stroke-width="0.25">60</text>
<text x="222.0" y="264.9" text-anchor="middle" font-family="Liberation Sans" font-weight="bold" font-size="4.9" fill="#111" stroke="#111" stroke-width="0.25">2</text>
<text x="223.2" y="255.5" text-anchor="middle" font-family="Liberation Sans" font-weight="bold" font-size="4.9" fill="#111" stroke="#111" stroke-width="0.25">4</text>
<text x="225.1" y="246.2" text-anchor="middle" font-family="Liberation Sans" font-weight="bold" font-size="4.9" fill="#111" stroke="#111" stroke-width="0.25">6</text>
<text x="226.9" y="237.5" text-anchor="middle" font-family="Liberation Sans" font-weight="bold" font-size="4.9" fill="#111" stroke="#111" stroke-width="0.25">8</text>
<line x1="190.10000000000002" y1="247.49999999999997" x2="201.20000000000002" y2="247.49999999999997" stroke="#3a90dd" stroke-width="1.2"/>
<line x1="190.10000000000002" y1="252.49999999999997" x2="201.20000000000002" y2="252.49999999999997" stroke="#b02040" stroke-width="1.2"/>
<text x="201.9" y="249.2" font-family="Liberation Sans" font-weight="bold" font-size="4.7" fill="#111" stroke="#111" stroke-width="0.2" textLength="19.4" lengthAdjust="spacingAndGlyphs">Reference</text>
<text x="201.9" y="254.39999999999998" font-family="Liberation Sans" font-weight="bold" font-size="4.7" fill="#111" stroke="#111" stroke-width="0.2" textLength="18" lengthAdjust="spacingAndGlyphs">λ=730nm</text>
<path d="M207.00,270.50 A9.30,1.90 0 0 0 207.00,274.30 A12.60,1.90 0 0 0 207.00,270.50Z" fill="none" stroke="#a8203e" stroke-width="1.4"/>
<ellipse cx="219.8" cy="272.4" rx="2.1" ry="2.4" fill="#1a6ad8"/>
<text x="297.4" y="232.5" font-family="Liberation Serif" font-size="11.2" fill="#222">(c3)</text>
<g fill="none" stroke="#cfcfcf" stroke-width="0.6"><circle cx="342.4" cy="272.4" r="9.1"/><circle cx="342.4" cy="272.4" r="18.2"/><circle cx="342.4" cy="272.4" r="27.3"/><circle cx="342.4" cy="272.4" r="36.4"/><circle cx="342.4" cy="272.4" r="40.8"/><line x1="342.4" y1="272.4" x2="383.20" y2="272.40"/><line x1="342.4" y1="272.4" x2="377.73" y2="252.00"/><line x1="342.4" y1="272.4" x2="362.80" y2="237.07"/><line x1="342.4" y1="272.4" x2="342.40" y2="231.60"/><line x1="342.4" y1="272.4" x2="322.00" y2="237.07"/><line x1="342.4" y1="272.4" x2="307.07" y2="252.00"/><line x1="342.4" y1="272.4" x2="301.60" y2="272.40"/><line x1="342.4" y1="272.4" x2="307.07" y2="292.80"/><line x1="342.4" y1="272.4" x2="322.00" y2="307.73"/><line x1="342.4" y1="272.4" x2="342.40" y2="313.20"/><line x1="342.4" y1="272.4" x2="362.80" y2="307.73"/><line x1="342.4" y1="272.4" x2="377.73" y2="292.80"/></g>
<clipPath id="cf02"><rect x="352.4" y="232.99999999999997" width="19.200000000000045" height="38.7"/><rect x="352.4" y="273.09999999999997" width="19.200000000000045" height="37.499999999999986"/></clipPath>
<clipPath id="cf02u"><rect x="352.4" y="232.99999999999997" width="19.200000000000045" height="38.70000000000002"/></clipPath>
<g clip-path="url(#cf02u)"><g filter="url(#cmapP)"><rect x="349.4" y="229.99999999999997" width="25.200000000000045" height="44.70000000000002" fill="#a6a6a6"/><circle cx="371.6" cy="252.49999999999997" r="17" fill="#262626"/><circle cx="371.6" cy="252.49999999999997" r="12" fill="#dfdfdf"/><circle cx="371.6" cy="252.49999999999997" r="5" fill="#000000"/></g><g filter="url(#bl04)"><rect x="367.5" y="236" width="3" height="11" fill="#ffee00"/><rect x="367.5" y="259" width="3" height="10" fill="#ffee00"/></g></g>
<clipPath id="cf02l"><rect x="352.4" y="273.09999999999997" width="19.200000000000045" height="37.5"/></clipPath>
<g clip-path="url(#cf02l)"><g filter="url(#cmapP)"><rect x="349.4" y="270.09999999999997" width="25.200000000000045" height="43.5" fill="#a6a6a6"/><circle cx="371.6" cy="291.2" r="14" fill="#262626"/><circle cx="371.6" cy="291.2" r="10" fill="#d9d9d9"/><circle cx="371.6" cy="291.2" r="5" fill="#0d0d0d"/></g><g filter="url(#bl04)"></g></g>
<g clip-path="url(#cf02)" fill="none" stroke="#e4e4e4" stroke-width="0.6" opacity="0.8"><circle cx="342.4" cy="272.4" r="9.1"/><circle cx="342.4" cy="272.4" r="18.2"/><circle cx="342.4" cy="272.4" r="27.3"/><circle cx="342.4" cy="272.4" r="36.4"/><circle cx="342.4" cy="272.4" r="40.8"/><line x1="342.4" y1="272.4" x2="383.20" y2="272.40"/><line x1="342.4" y1="272.4" x2="377.73" y2="252.00"/><line x1="342.4" y1="272.4" x2="362.80" y2="237.07"/><line x1="342.4" y1="272.4" x2="342.40" y2="231.60"/><line x1="342.4" y1="272.4" x2="322.00" y2="237.07"/><line x1="342.4" y1="272.4" x2="307.07" y2="252.00"/><line x1="342.4" y1="272.4" x2="301.60" y2="272.40"/><line x1="342.4" y1="272.4" x2="307.07" y2="292.80"/><line x1="342.4" y1="272.4" x2="322.00" y2="307.73"/><line x1="342.4" y1="272.4" x2="342.40" y2="313.20"/><line x1="342.4" y1="272.4" x2="362.80" y2="307.73"/><line x1="342.4" y1="272.4" x2="377.73" y2="292.80"/></g>
<rect x="371.6" y="232.99999999999997" width="37.89999999999998" height="38.7" fill="#d1d1d1"/>
<rect x="371.6" y="273.09999999999997" width="37.89999999999998" height="37.499999999999986" fill="#d1d1d1"/>
<g clip-path="url(#cf02g)"><ellipse cx="373.2" cy="252.3" rx="1.47" ry="1.25" fill="#1010f0"/><ellipse cx="377.2" cy="252.3" rx="1.47" ry="1.25" fill="#f01010"/><ellipse cx="381.2" cy="252.3" rx="1.47" ry="1.25" fill="#1010f0"/><ellipse cx="385.1" cy="252.3" rx="1.47" ry="1.25" fill="#f01010"/><ellipse cx="389.1" cy="252.3" rx="1.47" ry="1.25" fill="#1010f0"/><ellipse cx="393.1" cy="252.3" rx="1.47" ry="1.25" fill="#f01010"/><ellipse cx="397.1" cy="252.3" rx="1.47" ry="1.25" fill="#1010f0"/><ellipse cx="401.0" cy="252.3" rx="1.47" ry="1.25" fill="#f01010"/><ellipse cx="405.0" cy="252.3" rx="1.47" ry="1.25" fill="#1010f0"/><ellipse cx="409.0" cy="252.3" rx="1.47" ry="1.25" fill="#f01010"/></g>
<g clip-path="url(#cf02g)"><ellipse cx="373.2" cy="291.2" rx="1.47" ry="1.25" fill="#1010f0"/><ellipse cx="377.2" cy="291.2" rx="1.47" ry="1.25" fill="#f01010"/><ellipse cx="381.2" cy="291.2" rx="1.47" ry="1.25" fill="#1010f0"/><ellipse cx="385.1" cy="291.2" rx="1.47" ry="1.25" fill="#f01010"/><ellipse cx="389.1" cy="291.2" rx="1.47" ry="1.25" fill="#1010f0"/><ellipse cx="393.1" cy="291.2" rx="1.47" ry="1.25" fill="#f01010"/><ellipse cx="397.1" cy="291.2" rx="1.47" ry="1.25" fill="#1010f0"/><ellipse cx="401.0" cy="291.2" rx="1.47" ry="1.25" fill="#f01010"/><ellipse cx="405.0" cy="291.2" rx="1.47" ry="1.25" fill="#1010f0"/><ellipse cx="409.0" cy="291.2" rx="1.47" ry="1.25" fill="#f01010"/></g>
<clipPath id="cf02g"><rect x="371.6" y="232.99999999999997" width="37.89999999999998" height="77.6"/></clipPath>
<text x="408.2" y="243.1" text-anchor="end" font-family="Liberation Sans" font-weight="bold" font-size="6.5" fill="#111">λ=795nm</text>
<text x="408.9" y="282.9" text-anchor="end" font-family="Liberation Sans" font-weight="bold" font-size="6.2" fill="#111">Reference</text>
<text x="343.0" y="227.8" text-anchor="middle" font-family="Liberation Sans" font-weight="bold" font-size="4.9" fill="#111" stroke="#111" stroke-width="0.25">90</text>
<text x="318.2" y="233.7" text-anchor="middle" font-family="Liberation Sans" font-weight="bold" font-size="4.9" fill="#111" stroke="#111" stroke-width="0.25">120</text>
<text x="302.3" y="249.5" text-anchor="middle" font-family="Liberation Sans" font-weight="bold" font-size="4.9" fill="#111" stroke="#111" stroke-width="0.25">150</text>
<text x="296.1" y="274.1" text-anchor="middle" font-family="Liberation Sans" font-weight="bold" font-size="4.9" fill="#111" stroke="#111" stroke-width="0.25">180</text>
<text x="302.1" y="298.6" text-anchor="middle" font-family="Liberation Sans" font-weight="bold" font-size="4.9" fill="#111" stroke="#111" stroke-width="0.25">210</text>
<text x="317.8" y="314.6" text-anchor="middle" font-family="Liberation Sans" font-weight="bold" font-size="4.9" fill="#111" stroke="#111" stroke-width="0.25">240</text>
<text x="342.8" y="320.5" text-anchor="middle" font-family="Liberation Sans" font-weight="bold" font-size="4.9" fill="#111" stroke="#111" stroke-width="0.25">270</text>
<text x="368.0" y="314.6" text-anchor="middle" font-family="Liberation Sans" font-weight="bold" font-size="4.9" fill="#111" stroke="#111" stroke-width="0.25">300</text>
<text x="384.2" y="298.9" text-anchor="middle" font-family="Liberation Sans" font-weight="bold" font-size="4.9" fill="#111" stroke="#111" stroke-width="0.25">330</text>
<text x="387.4" y="273.6" text-anchor="middle" font-family="Liberation Sans" font-weight="bold" font-size="4.9" fill="#111" stroke="#111" stroke-width="0.25">0</text>
<text x="382.8" y="249.2" text-anchor="middle" font-family="Liberation Sans" font-weight="bold" font-size="4.9" fill="#111" stroke="#111" stroke-width="0.25">30</text>
<text x="367.2" y="233.4" text-anchor="middle" font-family="Liberation Sans" font-weight="bold" font-size="4.9" fill="#111" stroke="#111" stroke-width="0.25">60</text>
<text x="344.6" y="264.9" text-anchor="middle" font-family="Liberation Sans" font-weight="bold" font-size="4.9" fill="#111" stroke="#111" stroke-width="0.25">2</text>
<text x="345.8" y="255.5" text-anchor="middle" font-family="Liberation Sans" font-weight="bold" font-size="4.9" fill="#111" stroke="#111" stroke-width="0.25">4</text>
<text x="347.7" y="246.2" text-anchor="middle" font-family="Liberation Sans" font-weight="bold" font-size="4.9" fill="#111" stroke="#111" stroke-width="0.25">6</text>
<text x="349.5" y="237.5" text-anchor="middle" font-family="Liberation Sans" font-weight="bold" font-size="4.9" fill="#111" stroke="#111" stroke-width="0.25">8</text>
<line x1="312.7" y1="247.49999999999997" x2="323.79999999999995" y2="247.49999999999997" stroke="#3a90dd" stroke-width="1.2"/>
<line x1="312.7" y1="252.49999999999997" x2="323.79999999999995" y2="252.49999999999997" stroke="#b02040" stroke-width="1.2"/>
<text x="324.5" y="249.2" font-family="Liberation Sans" font-weight="bold" font-size="4.7" fill="#111" stroke="#111" stroke-width="0.2" textLength="19.4" lengthAdjust="spacingAndGlyphs">Reference</text>
<text x="324.5" y="254.39999999999998" font-family="Liberation Sans" font-weight="bold" font-size="4.7" fill="#111" stroke="#111" stroke-width="0.2" textLength="18" lengthAdjust="spacingAndGlyphs">λ=795nm</text>
<path d="M331.00,270.30 A8.10,2.10 0 0 0 331.00,274.50 A12.10,2.10 0 0 0 331.00,270.30Z" fill="none" stroke="#a8203e" stroke-width="1.4"/>
<ellipse cx="342.4" cy="272.4" rx="2.1" ry="2.8" fill="#1a6ad8"/>
<text x="43.4" y="341.1" font-family="Liberation Serif" font-size="11.2" fill="#222">(c4)</text>
<g fill="none" stroke="#cfcfcf" stroke-width="0.6"><circle cx="93.6" cy="382.5" r="9.1"/><circle cx="93.6" cy="382.5" r="18.2"/><circle cx="93.6" cy="382.5" r="27.3"/><circle cx="93.6" cy="382.5" r="36.4"/><circle cx="93.6" cy="382.5" r="40.8"/><line x1="93.6" y1="382.5" x2="134.40" y2="382.50"/><line x1="93.6" y1="382.5" x2="128.93" y2="362.10"/><line x1="93.6" y1="382.5" x2="114.00" y2="347.17"/><line x1="93.6" y1="382.5" x2="93.60" y2="341.70"/><line x1="93.6" y1="382.5" x2="73.20" y2="347.17"/><line x1="93.6" y1="382.5" x2="58.27" y2="362.10"/><line x1="93.6" y1="382.5" x2="52.80" y2="382.50"/><line x1="93.6" y1="382.5" x2="58.27" y2="402.90"/><line x1="93.6" y1="382.5" x2="73.20" y2="417.83"/><line x1="93.6" y1="382.5" x2="93.60" y2="423.30"/><line x1="93.6" y1="382.5" x2="114.00" y2="417.83"/><line x1="93.6" y1="382.5" x2="128.93" y2="402.90"/></g>
<clipPath id="cf10"><rect x="103.1" y="343.1" width="19.0" height="38.699999999999974"/><rect x="103.1" y="383.2" width="19.0" height="37.499999999999986"/></clipPath>
<clipPath id="cf10u"><rect x="103.1" y="343.1" width="19.0" height="38.69999999999999"/></clipPath>
<g clip-path="url(#cf10u)"><g filter="url(#cmapP)"><rect x="100.1" y="340.1" width="25.0" height="44.69999999999999" fill="#595959"/><circle cx="122.1" cy="362.6" r="15" fill="#dfdfdf"/><circle cx="122.1" cy="362.6" r="8" fill="#202020"/><circle cx="122.1" cy="362.6" r="3" fill="#ffffff"/></g><g filter="url(#bl04)"><ellipse cx="118.5" cy="375" rx="1.8" ry="2.5" fill="#2030ee" opacity="0.85"/><ellipse cx="118.5" cy="357.5" rx="1.8" ry="2.5" fill="#2030ee" opacity="0.85"/><rect x="119.5" y="347" width="2.5" height="31" fill="#ffee00"/></g></g>
<clipPath id="cf10l"><rect x="103.1" y="383.2" width="19.0" height="37.5"/></clipPath>
<g clip-path="url(#cf10l)"><g filter="url(#cmapP)"><rect x="100.1" y="380.2" width="25.0" height="43.5" fill="#595959"/><circle cx="122.1" cy="401.3" r="17" fill="#d9d9d9"/><circle cx="122.1" cy="401.3" r="9" fill="#262626"/><circle cx="122.1" cy="401.3" r="3" fill="#ffffff"/></g><g filter="url(#bl04)"></g></g>
<g clip-path="url(#cf10)" fill="none" stroke="#e4e4e4" stroke-width="0.6" opacity="0.8"><circle cx="93.6" cy="382.5" r="9.1"/><circle cx="93.6" cy="382.5" r="18.2"/><circle cx="93.6" cy="382.5" r="27.3"/><circle cx="93.6" cy="382.5" r="36.4"/><circle cx="93.6" cy="382.5" r="40.8"/><line x1="93.6" y1="382.5" x2="134.40" y2="382.50"/><line x1="93.6" y1="382.5" x2="128.93" y2="362.10"/><line x1="93.6" y1="382.5" x2="114.00" y2="347.17"/><line x1="93.6" y1="382.5" x2="93.60" y2="341.70"/><line x1="93.6" y1="382.5" x2="73.20" y2="347.17"/><line x1="93.6" y1="382.5" x2="58.27" y2="362.10"/><line x1="93.6" y1="382.5" x2="52.80" y2="382.50"/><line x1="93.6" y1="382.5" x2="58.27" y2="402.90"/><line x1="93.6" y1="382.5" x2="73.20" y2="417.83"/><line x1="93.6" y1="382.5" x2="93.60" y2="423.30"/><line x1="93.6" y1="382.5" x2="114.00" y2="417.83"/><line x1="93.6" y1="382.5" x2="128.93" y2="402.90"/></g>
<rect x="122.1" y="343.1" width="38.20000000000002" height="38.699999999999974" fill="#d1d1d1"/>
<rect x="122.1" y="383.2" width="38.20000000000002" height="37.499999999999986" fill="#d1d1d1"/>
<g clip-path="url(#cf10g)"><ellipse cx="123.7" cy="362.4" rx="1.63" ry="1.25" fill="#1010f0"/><ellipse cx="128.1" cy="362.4" rx="1.63" ry="1.25" fill="#f01010"/><ellipse cx="132.5" cy="362.4" rx="1.63" ry="1.25" fill="#1010f0"/><ellipse cx="136.9" cy="362.4" rx="1.63" ry="1.25" fill="#f01010"/><ellipse cx="141.3" cy="362.4" rx="1.63" ry="1.25" fill="#1010f0"/><ellipse cx="145.7" cy="362.4" rx="1.63" ry="1.25" fill="#f01010"/><ellipse cx="150.1" cy="362.4" rx="1.63" ry="1.25" fill="#1010f0"/><ellipse cx="154.5" cy="362.4" rx="1.63" ry="1.25" fill="#f01010"/><ellipse cx="158.9" cy="362.4" rx="1.63" ry="1.25" fill="#1010f0"/></g>
<g clip-path="url(#cf10g)"><ellipse cx="123.7" cy="401.3" rx="1.63" ry="1.25" fill="#1010f0"/><ellipse cx="128.1" cy="401.3" rx="1.63" ry="1.25" fill="#f01010"/><ellipse cx="132.5" cy="401.3" rx="1.63" ry="1.25" fill="#1010f0"/><ellipse cx="136.9" cy="401.3" rx="1.63" ry="1.25" fill="#f01010"/><ellipse cx="141.3" cy="401.3" rx="1.63" ry="1.25" fill="#1010f0"/><ellipse cx="145.7" cy="401.3" rx="1.63" ry="1.25" fill="#f01010"/><ellipse cx="150.1" cy="401.3" rx="1.63" ry="1.25" fill="#1010f0"/><ellipse cx="154.5" cy="401.3" rx="1.63" ry="1.25" fill="#f01010"/><ellipse cx="158.9" cy="401.3" rx="1.63" ry="1.25" fill="#1010f0"/></g>
<clipPath id="cf10g"><rect x="122.1" y="343.1" width="38.20000000000002" height="77.59999999999997"/></clipPath>
<text x="159.0" y="353.2" text-anchor="end" font-family="Liberation Sans" font-weight="bold" font-size="6.5" fill="#111">λ=880nm</text>
<text x="159.70000000000002" y="393.0" text-anchor="end" font-family="Liberation Sans" font-weight="bold" font-size="6.2" fill="#111">Reference</text>
<text x="94.2" y="337.9" text-anchor="middle" font-family="Liberation Sans" font-weight="bold" font-size="4.9" fill="#111" stroke="#111" stroke-width="0.25">90</text>
<text x="69.4" y="343.8" text-anchor="middle" font-family="Liberation Sans" font-weight="bold" font-size="4.9" fill="#111" stroke="#111" stroke-width="0.25">120</text>
<text x="53.5" y="359.6" text-anchor="middle" font-family="Liberation Sans" font-weight="bold" font-size="4.9" fill="#111" stroke="#111" stroke-width="0.25">150</text>
<text x="47.3" y="384.2" text-anchor="middle" font-family="Liberation Sans" font-weight="bold" font-size="4.9" fill="#111" stroke="#111" stroke-width="0.25">180</text>
<text x="53.3" y="408.7" text-anchor="middle" font-family="Liberation Sans" font-weight="bold" font-size="4.9" fill="#111" stroke="#111" stroke-width="0.25">210</text>
<text x="69.0" y="424.7" text-anchor="middle" font-family="Liberation Sans" font-weight="bold" font-size="4.9" fill="#111" stroke="#111" stroke-width="0.25">240</text>
<text x="94.0" y="430.6" text-anchor="middle" font-family="Liberation Sans" font-weight="bold" font-size="4.9" fill="#111" stroke="#111" stroke-width="0.25">270</text>
<text x="119.2" y="424.7" text-anchor="middle" font-family="Liberation Sans" font-weight="bold" font-size="4.9" fill="#111" stroke="#111" stroke-width="0.25">300</text>
<text x="135.4" y="409.0" text-anchor="middle" font-family="Liberation Sans" font-weight="bold" font-size="4.9" fill="#111" stroke="#111" stroke-width="0.25">330</text>
<text x="138.6" y="383.7" text-anchor="middle" font-family="Liberation Sans" font-weight="bold" font-size="4.9" fill="#111" stroke="#111" stroke-width="0.25">0</text>
<text x="134.0" y="359.3" text-anchor="middle" font-family="Liberation Sans" font-weight="bold" font-size="4.9" fill="#111" stroke="#111" stroke-width="0.25">30</text>
<text x="118.4" y="343.5" text-anchor="middle" font-family="Liberation Sans" font-weight="bold" font-size="4.9" fill="#111" stroke="#111" stroke-width="0.25">60</text>
<text x="95.8" y="375.0" text-anchor="middle" font-family="Liberation Sans" font-weight="bold" font-size="4.9" fill="#111" stroke="#111" stroke-width="0.25">2</text>
<text x="97.0" y="365.6" text-anchor="middle" font-family="Liberation Sans" font-weight="bold" font-size="4.9" fill="#111" stroke="#111" stroke-width="0.25">4</text>
<text x="98.9" y="356.3" text-anchor="middle" font-family="Liberation Sans" font-weight="bold" font-size="4.9" fill="#111" stroke="#111" stroke-width="0.25">6</text>
<text x="100.7" y="347.6" text-anchor="middle" font-family="Liberation Sans" font-weight="bold" font-size="4.9" fill="#111" stroke="#111" stroke-width="0.25">8</text>
<line x1="63.89999999999999" y1="357.6" x2="75.0" y2="357.6" stroke="#3a90dd" stroke-width="1.2"/>
<line x1="63.89999999999999" y1="362.6" x2="75.0" y2="362.6" stroke="#b02040" stroke-width="1.2"/>
<text x="75.69999999999999" y="359.3" font-family="Liberation Sans" font-weight="bold" font-size="4.7" fill="#111" stroke="#111" stroke-width="0.2" textLength="19.4" lengthAdjust="spacingAndGlyphs">Reference</text>
<text x="75.69999999999999" y="364.5" font-family="Liberation Sans" font-weight="bold" font-size="4.7" fill="#111" stroke="#111" stroke-width="0.2" textLength="18" lengthAdjust="spacingAndGlyphs">λ=880nm</text>
<path d="M75.80,380.00 A11.00,2.50 0 0 0 75.80,385.00 A17.00,2.50 0 0 0 75.80,380.00Z" fill="none" stroke="#a8203e" stroke-width="1.4"/>
<ellipse cx="93.6" cy="382.5" rx="2.1" ry="2.4" fill="#1a6ad8"/>
<text x="170.3" y="341.1" font-family="Liberation Serif" font-size="11.2" fill="#222">(c5)</text>
<g fill="none" stroke="#cfcfcf" stroke-width="0.6"><circle cx="219.8" cy="382.5" r="9.1"/><circle cx="219.8" cy="382.5" r="18.2"/><circle cx="219.8" cy="382.5" r="27.3"/><circle cx="219.8" cy="382.5" r="36.4"/><circle cx="219.8" cy="382.5" r="40.8"/><line x1="219.8" y1="382.5" x2="260.60" y2="382.50"/><line x1="219.8" y1="382.5" x2="255.13" y2="362.10"/><line x1="219.8" y1="382.5" x2="240.20" y2="347.17"/><line x1="219.8" y1="382.5" x2="219.80" y2="341.70"/><line x1="219.8" y1="382.5" x2="199.40" y2="347.17"/><line x1="219.8" y1="382.5" x2="184.47" y2="362.10"/><line x1="219.8" y1="382.5" x2="179.00" y2="382.50"/><line x1="219.8" y1="382.5" x2="184.47" y2="402.90"/><line x1="219.8" y1="382.5" x2="199.40" y2="417.83"/><line x1="219.8" y1="382.5" x2="219.80" y2="423.30"/><line x1="219.8" y1="382.5" x2="240.20" y2="417.83"/><line x1="219.8" y1="382.5" x2="255.13" y2="402.90"/></g>
<clipPath id="cf11"><rect x="229.6" y="343.1" width="18.400000000000006" height="38.699999999999974"/><rect x="229.6" y="383.2" width="18.400000000000006" height="37.499999999999986"/></clipPath>
<clipPath id="cf11u"><rect x="229.6" y="343.1" width="18.400000000000006" height="38.69999999999999"/></clipPath>
<g clip-path="url(#cf11u)"><g filter="url(#cmapP)"><rect x="226.6" y="340.1" width="24.400000000000006" height="44.69999999999999" fill="#b2b2b2"/><circle cx="248.0" cy="362.6" r="15" fill="#191919"/><circle cx="248.0" cy="362.6" r="6" fill="#f2f2f2"/></g><g filter="url(#bl04)"><ellipse cx="245.3" cy="375.5" rx="2.4" ry="2.4" fill="#ee3030" opacity="0.85"/><ellipse cx="245.3" cy="350.5" rx="2.4" ry="2.4" fill="#ee3030" opacity="0.85"/><ellipse cx="245" cy="362.6" rx="3.6" ry="5.3" fill="#ee3030" opacity="0.85"/><rect x="246.4" y="350" width="1.6" height="25" fill="#ffee00"/><rect x="244" y="347.5" width="3" height="2.2" fill="#ffee00"/><rect x="244" y="377" width="3" height="2.2" fill="#ffee00"/></g></g>
<clipPath id="cf11l"><rect x="229.6" y="383.2" width="18.400000000000006" height="37.5"/></clipPath>
<g clip-path="url(#cf11l)"><g filter="url(#cmapP)"><rect x="226.6" y="380.2" width="24.400000000000006" height="43.5" fill="#b2b2b2"/><circle cx="248.0" cy="401.3" r="15" fill="#202020"/><circle cx="248.0" cy="401.3" r="6" fill="#e6e6e6"/></g><g filter="url(#bl04)"></g></g>
<g clip-path="url(#cf11)" fill="none" stroke="#e4e4e4" stroke-width="0.6" opacity="0.8"><circle cx="219.8" cy="382.5" r="9.1"/><circle cx="219.8" cy="382.5" r="18.2"/><circle cx="219.8" cy="382.5" r="27.3"/><circle cx="219.8" cy="382.5" r="36.4"/><circle cx="219.8" cy="382.5" r="40.8"/><line x1="219.8" y1="382.5" x2="260.60" y2="382.50"/><line x1="219.8" y1="382.5" x2="255.13" y2="362.10"/><line x1="219.8" y1="382.5" x2="240.20" y2="347.17"/><line x1="219.8" y1="382.5" x2="219.80" y2="341.70"/><line x1="219.8" y1="382.5" x2="199.40" y2="347.17"/><line x1="219.8" y1="382.5" x2="184.47" y2="362.10"/><line x1="219.8" y1="382.5" x2="179.00" y2="382.50"/><line x1="219.8" y1="382.5" x2="184.47" y2="402.90"/><line x1="219.8" y1="382.5" x2="199.40" y2="417.83"/><line x1="219.8" y1="382.5" x2="219.80" y2="423.30"/><line x1="219.8" y1="382.5" x2="240.20" y2="417.83"/><line x1="219.8" y1="382.5" x2="255.13" y2="402.90"/></g>
<rect x="248.0" y="343.1" width="38.60000000000002" height="38.699999999999974" fill="#d1d1d1"/>
<rect x="248.0" y="383.2" width="38.60000000000002" height="37.499999999999986" fill="#d1d1d1"/>
<g clip-path="url(#cf11g)"><ellipse cx="249.6" cy="362.4" rx="1.83" ry="1.25" fill="#1010f0"/><ellipse cx="254.5" cy="362.4" rx="1.83" ry="1.25" fill="#f01010"/><ellipse cx="259.5" cy="362.4" rx="1.83" ry="1.25" fill="#1010f0"/><ellipse cx="264.4" cy="362.4" rx="1.83" ry="1.25" fill="#f01010"/><ellipse cx="269.4" cy="362.4" rx="1.83" ry="1.25" fill="#1010f0"/><ellipse cx="274.3" cy="362.4" rx="1.83" ry="1.25" fill="#f01010"/><ellipse cx="279.2" cy="362.4" rx="1.83" ry="1.25" fill="#1010f0"/><ellipse cx="284.2" cy="362.4" rx="1.83" ry="1.25" fill="#f01010"/></g>
<g clip-path="url(#cf11g)"><ellipse cx="249.6" cy="401.3" rx="1.83" ry="1.25" fill="#1010f0"/><ellipse cx="254.5" cy="401.3" rx="1.83" ry="1.25" fill="#f01010"/><ellipse cx="259.5" cy="401.3" rx="1.83" ry="1.25" fill="#1010f0"/><ellipse cx="264.4" cy="401.3" rx="1.83" ry="1.25" fill="#f01010"/><ellipse cx="269.4" cy="401.3" rx="1.83" ry="1.25" fill="#1010f0"/><ellipse cx="274.3" cy="401.3" rx="1.83" ry="1.25" fill="#f01010"/><ellipse cx="279.2" cy="401.3" rx="1.83" ry="1.25" fill="#1010f0"/><ellipse cx="284.2" cy="401.3" rx="1.83" ry="1.25" fill="#f01010"/></g>
<clipPath id="cf11g"><rect x="248.0" y="343.1" width="38.60000000000002" height="77.59999999999997"/></clipPath>
<text x="285.3" y="353.2" text-anchor="end" font-family="Liberation Sans" font-weight="bold" font-size="6.5" fill="#111">λ=988nm</text>
<text x="286.0" y="393.0" text-anchor="end" font-family="Liberation Sans" font-weight="bold" font-size="6.2" fill="#111">Reference</text>
<text x="220.4" y="337.9" text-anchor="middle" font-family="Liberation Sans" font-weight="bold" font-size="4.9" fill="#111" stroke="#111" stroke-width="0.25">90</text>
<text x="195.6" y="343.8" text-anchor="middle" font-family="Liberation Sans" font-weight="bold" font-size="4.9" fill="#111" stroke="#111" stroke-width="0.25">120</text>
<text x="179.7" y="359.6" text-anchor="middle" font-family="Liberation Sans" font-weight="bold" font-size="4.9" fill="#111" stroke="#111" stroke-width="0.25">150</text>
<text x="173.5" y="384.2" text-anchor="middle" font-family="Liberation Sans" font-weight="bold" font-size="4.9" fill="#111" stroke="#111" stroke-width="0.25">180</text>
<text x="179.5" y="408.7" text-anchor="middle" font-family="Liberation Sans" font-weight="bold" font-size="4.9" fill="#111" stroke="#111" stroke-width="0.25">210</text>
<text x="195.2" y="424.7" text-anchor="middle" font-family="Liberation Sans" font-weight="bold" font-size="4.9" fill="#111" stroke="#111" stroke-width="0.25">240</text>
<text x="220.2" y="430.6" text-anchor="middle" font-family="Liberation Sans" font-weight="bold" font-size="4.9" fill="#111" stroke="#111" stroke-width="0.25">270</text>
<text x="245.4" y="424.7" text-anchor="middle" font-family="Liberation Sans" font-weight="bold" font-size="4.9" fill="#111" stroke="#111" stroke-width="0.25">300</text>
<text x="261.6" y="409.0" text-anchor="middle" font-family="Liberation Sans" font-weight="bold" font-size="4.9" fill="#111" stroke="#111" stroke-width="0.25">330</text>
<text x="264.8" y="383.7" text-anchor="middle" font-family="Liberation Sans" font-weight="bold" font-size="4.9" fill="#111" stroke="#111" stroke-width="0.25">0</text>
<text x="260.2" y="359.3" text-anchor="middle" font-family="Liberation Sans" font-weight="bold" font-size="4.9" fill="#111" stroke="#111" stroke-width="0.25">30</text>
<text x="244.6" y="343.5" text-anchor="middle" font-family="Liberation Sans" font-weight="bold" font-size="4.9" fill="#111" stroke="#111" stroke-width="0.25">60</text>
<text x="222.0" y="375.0" text-anchor="middle" font-family="Liberation Sans" font-weight="bold" font-size="4.9" fill="#111" stroke="#111" stroke-width="0.25">2</text>
<text x="223.2" y="365.6" text-anchor="middle" font-family="Liberation Sans" font-weight="bold" font-size="4.9" fill="#111" stroke="#111" stroke-width="0.25">4</text>
<text x="225.1" y="356.3" text-anchor="middle" font-family="Liberation Sans" font-weight="bold" font-size="4.9" fill="#111" stroke="#111" stroke-width="0.25">6</text>
<text x="226.9" y="347.6" text-anchor="middle" font-family="Liberation Sans" font-weight="bold" font-size="4.9" fill="#111" stroke="#111" stroke-width="0.25">8</text>
<line x1="190.10000000000002" y1="357.6" x2="201.20000000000002" y2="357.6" stroke="#3a90dd" stroke-width="1.2"/>
<line x1="190.10000000000002" y1="362.6" x2="201.20000000000002" y2="362.6" stroke="#b02040" stroke-width="1.2"/>
<text x="201.9" y="359.3" font-family="Liberation Sans" font-weight="bold" font-size="4.7" fill="#111" stroke="#111" stroke-width="0.2" textLength="19.4" lengthAdjust="spacingAndGlyphs">Reference</text>
<text x="201.9" y="364.5" font-family="Liberation Sans" font-weight="bold" font-size="4.7" fill="#111" stroke="#111" stroke-width="0.2" textLength="18" lengthAdjust="spacingAndGlyphs">λ=988nm</text>
<path d="M198.70,379.40 A9.20,3.10 0 0 0 198.70,385.60 A19.60,3.10 0 0 0 198.70,379.40Z" fill="none" stroke="#a8203e" stroke-width="1.4"/>
<ellipse cx="219.8" cy="382.5" rx="2.1" ry="2.4" fill="#1a6ad8"/>
<text x="297.4" y="341.1" font-family="Liberation Serif" font-size="11.2" fill="#222">(c6)</text>
<g fill="none" stroke="#cfcfcf" stroke-width="0.6"><circle cx="342.4" cy="382.5" r="9.1"/><circle cx="342.4" cy="382.5" r="18.2"/><circle cx="342.4" cy="382.5" r="27.3"/><circle cx="342.4" cy="382.5" r="36.4"/><circle cx="342.4" cy="382.5" r="40.8"/><line x1="342.4" y1="382.5" x2="383.20" y2="382.50"/><line x1="342.4" y1="382.5" x2="377.73" y2="362.10"/><line x1="342.4" y1="382.5" x2="362.80" y2="347.17"/><line x1="342.4" y1="382.5" x2="342.40" y2="341.70"/><line x1="342.4" y1="382.5" x2="322.00" y2="347.17"/><line x1="342.4" y1="382.5" x2="307.07" y2="362.10"/><line x1="342.4" y1="382.5" x2="301.60" y2="382.50"/><line x1="342.4" y1="382.5" x2="307.07" y2="402.90"/><line x1="342.4" y1="382.5" x2="322.00" y2="417.83"/><line x1="342.4" y1="382.5" x2="342.40" y2="423.30"/><line x1="342.4" y1="382.5" x2="362.80" y2="417.83"/><line x1="342.4" y1="382.5" x2="377.73" y2="402.90"/></g>
<clipPath id="cf12"><rect x="352.4" y="343.1" width="19.200000000000045" height="38.699999999999974"/><rect x="352.4" y="383.2" width="19.200000000000045" height="37.499999999999986"/></clipPath>
<clipPath id="cf12u"><rect x="352.4" y="343.1" width="19.200000000000045" height="38.69999999999999"/></clipPath>
<g clip-path="url(#cf12u)"><g filter="url(#cmapP)"><rect x="349.4" y="340.1" width="25.200000000000045" height="44.69999999999999" fill="#464646"/><circle cx="371.6" cy="362.6" r="9" fill="#e6e6e6"/><circle cx="371.6" cy="362.6" r="3" fill="#000000"/></g><g filter="url(#bl04)"><ellipse cx="365" cy="368.5" rx="4" ry="4.5" fill="#ee3030" opacity="0.85"/><ellipse cx="365" cy="356.5" rx="4" ry="4.5" fill="#ee3030" opacity="0.85"/><rect x="368" y="352" width="2.5" height="8" fill="#ffee00"/><rect x="368" y="365" width="2.5" height="7" fill="#ffee00"/></g></g>
<clipPath id="cf12l"><rect x="352.4" y="383.2" width="19.200000000000045" height="37.5"/></clipPath>
<g clip-path="url(#cf12l)"><g filter="url(#cmapP)"><rect x="349.4" y="380.2" width="25.200000000000045" height="43.5" fill="#464646"/><circle cx="371.6" cy="401.3" r="11" fill="#d9d9d9"/><circle cx="371.6" cy="401.3" r="3" fill="#000000"/></g><g filter="url(#bl04)"></g></g>
<g clip-path="url(#cf12)" fill="none" stroke="#e4e4e4" stroke-width="0.6" opacity="0.8"><circle cx="342.4" cy="382.5" r="9.1"/><circle cx="342.4" cy="382.5" r="18.2"/><circle cx="342.4" cy="382.5" r="27.3"/><circle cx="342.4" cy="382.5" r="36.4"/><circle cx="342.4" cy="382.5" r="40.8"/><line x1="342.4" y1="382.5" x2="383.20" y2="382.50"/><line x1="342.4" y1="382.5" x2="377.73" y2="362.10"/><line x1="342.4" y1="382.5" x2="362.80" y2="347.17"/><line x1="342.4" y1="382.5" x2="342.40" y2="341.70"/><line x1="342.4" y1="382.5" x2="322.00" y2="347.17"/><line x1="342.4" y1="382.5" x2="307.07" y2="362.10"/><line x1="342.4" y1="382.5" x2="301.60" y2="382.50"/><line x1="342.4" y1="382.5" x2="307.07" y2="402.90"/><line x1="342.4" y1="382.5" x2="322.00" y2="417.83"/><line x1="342.4" y1="382.5" x2="342.40" y2="423.30"/><line x1="342.4" y1="382.5" x2="362.80" y2="417.83"/><line x1="342.4" y1="382.5" x2="377.73" y2="402.90"/></g>
<rect x="371.6" y="343.1" width="37.89999999999998" height="38.699999999999974" fill="#d1d1d1"/>
<rect x="371.6" y="383.2" width="37.89999999999998" height="37.499999999999986" fill="#d1d1d1"/>
<g clip-path="url(#cf12g)"><ellipse cx="373.2" cy="362.4" rx="2.10" ry="1.25" fill="#1010f0"/><ellipse cx="378.9" cy="362.4" rx="2.10" ry="1.25" fill="#f01010"/><ellipse cx="384.6" cy="362.4" rx="2.10" ry="1.25" fill="#1010f0"/><ellipse cx="390.2" cy="362.4" rx="2.10" ry="1.25" fill="#f01010"/><ellipse cx="395.9" cy="362.4" rx="2.10" ry="1.25" fill="#1010f0"/><ellipse cx="401.6" cy="362.4" rx="2.10" ry="1.25" fill="#f01010"/><ellipse cx="407.3" cy="362.4" rx="2.10" ry="1.25" fill="#1010f0"/></g>
<g clip-path="url(#cf12g)"><ellipse cx="373.2" cy="401.3" rx="2.10" ry="1.25" fill="#1010f0"/><ellipse cx="378.9" cy="401.3" rx="2.10" ry="1.25" fill="#f01010"/><ellipse cx="384.6" cy="401.3" rx="2.10" ry="1.25" fill="#1010f0"/><ellipse cx="390.2" cy="401.3" rx="2.10" ry="1.25" fill="#f01010"/><ellipse cx="395.9" cy="401.3" rx="2.10" ry="1.25" fill="#1010f0"/><ellipse cx="401.6" cy="401.3" rx="2.10" ry="1.25" fill="#f01010"/><ellipse cx="407.3" cy="401.3" rx="2.10" ry="1.25" fill="#1010f0"/></g>
<clipPath id="cf12g"><rect x="371.6" y="343.1" width="37.89999999999998" height="77.59999999999997"/></clipPath>
<text x="408.2" y="353.2" text-anchor="end" font-family="Liberation Sans" font-weight="bold" font-size="6.5" fill="#111">λ=1135nm</text>
<text x="408.9" y="393.0" text-anchor="end" font-family="Liberation Sans" font-weight="bold" font-size="6.2" fill="#111">Reference</text>
<text x="343.0" y="337.9" text-anchor="middle" font-family="Liberation Sans" font-weight="bold" font-size="4.9" fill="#111" stroke="#111" stroke-width="0.25">90</text>
<text x="318.2" y="343.8" text-anchor="middle" font-family="Liberation Sans" font-weight="bold" font-size="4.9" fill="#111" stroke="#111" stroke-width="0.25">120</text>
<text x="302.3" y="359.6" text-anchor="middle" font-family="Liberation Sans" font-weight="bold" font-size="4.9" fill="#111" stroke="#111" stroke-width="0.25">150</text>
<text x="296.1" y="384.2" text-anchor="middle" font-family="Liberation Sans" font-weight="bold" font-size="4.9" fill="#111" stroke="#111" stroke-width="0.25">180</text>
<text x="302.1" y="408.7" text-anchor="middle" font-family="Liberation Sans" font-weight="bold" font-size="4.9" fill="#111" stroke="#111" stroke-width="0.25">210</text>
<text x="317.8" y="424.7" text-anchor="middle" font-family="Liberation Sans" font-weight="bold" font-size="4.9" fill="#111" stroke="#111" stroke-width="0.25">240</text>
<text x="342.8" y="430.6" text-anchor="middle" font-family="Liberation Sans" font-weight="bold" font-size="4.9" fill="#111" stroke="#111" stroke-width="0.25">270</text>
<text x="368.0" y="424.7" text-anchor="middle" font-family="Liberation Sans" font-weight="bold" font-size="4.9" fill="#111" stroke="#111" stroke-width="0.25">300</text>
<text x="384.2" y="409.0" text-anchor="middle" font-family="Liberation Sans" font-weight="bold" font-size="4.9" fill="#111" stroke="#111" stroke-width="0.25">330</text>
<text x="387.4" y="383.7" text-anchor="middle" font-family="Liberation Sans" font-weight="bold" font-size="4.9" fill="#111" stroke="#111" stroke-width="0.25">0</text>
<text x="382.8" y="359.3" text-anchor="middle" font-family="Liberation Sans" font-weight="bold" font-size="4.9" fill="#111" stroke="#111" stroke-width="0.25">30</text>
<text x="367.2" y="343.5" text-anchor="middle" font-family="Liberation Sans" font-weight="bold" font-size="4.9" fill="#111" stroke="#111" stroke-width="0.25">60</text>
<text x="344.6" y="375.0" text-anchor="middle" font-family="Liberation Sans" font-weight="bold" font-size="4.9" fill="#111" stroke="#111" stroke-width="0.25">2</text>
<text x="345.8" y="365.6" text-anchor="middle" font-family="Liberation Sans" font-weight="bold" font-size="4.9" fill="#111" stroke="#111" stroke-width="0.25">4</text>
<text x="347.7" y="356.3" text-anchor="middle" font-family="Liberation Sans" font-weight="bold" font-size="4.9" fill="#111" stroke="#111" stroke-width="0.25">6</text>
<text x="349.5" y="347.6" text-anchor="middle" font-family="Liberation Sans" font-weight="bold" font-size="4.9" fill="#111" stroke="#111" stroke-width="0.25">8</text>
<line x1="312.7" y1="357.6" x2="323.79999999999995" y2="357.6" stroke="#3a90dd" stroke-width="1.2"/>
<line x1="312.7" y1="362.6" x2="323.79999999999995" y2="362.6" stroke="#b02040" stroke-width="1.2"/>
<text x="324.5" y="359.3" font-family="Liberation Sans" font-weight="bold" font-size="4.7" fill="#111" stroke="#111" stroke-width="0.2" textLength="19.4" lengthAdjust="spacingAndGlyphs">Reference</text>
<text x="324.5" y="364.5" font-family="Liberation Sans" font-weight="bold" font-size="4.7" fill="#111" stroke="#111" stroke-width="0.2" textLength="20.5" lengthAdjust="spacingAndGlyphs">λ=1135nm</text>
<path d="M328.60,379.20 A6.80,3.30 0 0 0 328.60,385.80 A13.90,3.30 0 0 0 328.60,379.20Z" fill="none" stroke="#a8203e" stroke-width="1.4"/>
<ellipse cx="342.4" cy="382.5" rx="2.1" ry="2.8" fill="#1a6ad8"/>
<text x="43.4" y="452.5" font-family="Liberation Serif" font-size="11.2" fill="#222">(c7)</text>
<g fill="none" stroke="#cfcfcf" stroke-width="0.6"><circle cx="93.6" cy="492.0" r="9.1"/><circle cx="93.6" cy="492.0" r="18.2"/><circle cx="93.6" cy="492.0" r="27.3"/><circle cx="93.6" cy="492.0" r="36.4"/><circle cx="93.6" cy="492.0" r="40.8"/><line x1="93.6" y1="492.0" x2="134.40" y2="492.00"/><line x1="93.6" y1="492.0" x2="128.93" y2="471.60"/><line x1="93.6" y1="492.0" x2="114.00" y2="456.67"/><line x1="93.6" y1="492.0" x2="93.60" y2="451.20"/><line x1="93.6" y1="492.0" x2="73.20" y2="456.67"/><line x1="93.6" y1="492.0" x2="58.27" y2="471.60"/><line x1="93.6" y1="492.0" x2="52.80" y2="492.00"/><line x1="93.6" y1="492.0" x2="58.27" y2="512.40"/><line x1="93.6" y1="492.0" x2="73.20" y2="527.33"/><line x1="93.6" y1="492.0" x2="93.60" y2="532.80"/><line x1="93.6" y1="492.0" x2="114.00" y2="527.33"/><line x1="93.6" y1="492.0" x2="128.93" y2="512.40"/></g>
<clipPath id="cf20"><rect x="103.1" y="452.6" width="19.0" height="38.699999999999974"/><rect x="103.1" y="492.7" width="19.0" height="37.50000000000004"/></clipPath>
<clipPath id="cf20u"><rect x="103.1" y="452.6" width="19.0" height="38.69999999999999"/></clipPath>
<g clip-path="url(#cf20u)"><g filter="url(#cmapP)"><rect x="100.1" y="449.6" width="25.0" height="44.69999999999999" fill="#404040"/><circle cx="122.1" cy="472.1" r="16" fill="#d2d2d2"/><circle cx="122.1" cy="472.1" r="5" fill="#000000"/></g><g filter="url(#bl04)"><rect x="118" y="468" width="2.5" height="9" fill="#ffee00"/><rect x="117.5" y="461" width="1.2" height="1.2" fill="#ffee00"/><rect x="117.5" y="484" width="1.2" height="1.2" fill="#ffee00"/></g></g>
<clipPath id="cf20l"><rect x="103.1" y="492.7" width="19.0" height="37.50000000000006"/></clipPath>
<g clip-path="url(#cf20l)"><g filter="url(#cmapP)"><rect x="100.1" y="489.7" width="25.0" height="43.50000000000006" fill="#b9b9b9"/><circle cx="122.1" cy="510.8" r="10" fill="#202020"/></g><g filter="url(#bl04)"></g></g>
<g clip-path="url(#cf20)" fill="none" stroke="#e4e4e4" stroke-width="0.6" opacity="0.8"><circle cx="93.6" cy="492.0" r="9.1"/><circle cx="93.6" cy="492.0" r="18.2"/><circle cx="93.6" cy="492.0" r="27.3"/><circle cx="93.6" cy="492.0" r="36.4"/><circle cx="93.6" cy="492.0" r="40.8"/><line x1="93.6" y1="492.0" x2="134.40" y2="492.00"/><line x1="93.6" y1="492.0" x2="128.93" y2="471.60"/><line x1="93.6" y1="492.0" x2="114.00" y2="456.67"/><line x1="93.6" y1="492.0" x2="93.60" y2="451.20"/><line x1="93.6" y1="492.0" x2="73.20" y2="456.67"/><line x1="93.6" y1="492.0" x2="58.27" y2="471.60"/><line x1="93.6" y1="492.0" x2="52.80" y2="492.00"/><line x1="93.6" y1="492.0" x2="58.27" y2="512.40"/><line x1="93.6" y1="492.0" x2="73.20" y2="527.33"/><line x1="93.6" y1="492.0" x2="93.60" y2="532.80"/><line x1="93.6" y1="492.0" x2="114.00" y2="527.33"/><line x1="93.6" y1="492.0" x2="128.93" y2="512.40"/></g>
<rect x="122.1" y="452.6" width="38.20000000000002" height="38.699999999999974" fill="#d1d1d1"/>
<rect x="122.1" y="492.7" width="38.20000000000002" height="37.50000000000004" fill="#d1d1d1"/>
<g clip-path="url(#cf20g)"><ellipse cx="123.7" cy="471.9" rx="2.48" ry="1.25" fill="#1010f0"/><ellipse cx="130.4" cy="471.9" rx="2.48" ry="1.25" fill="#f01010"/><ellipse cx="137.1" cy="471.9" rx="2.48" ry="1.25" fill="#1010f0"/><ellipse cx="143.8" cy="471.9" rx="2.48" ry="1.25" fill="#f01010"/><ellipse cx="150.5" cy="471.9" rx="2.48" ry="1.25" fill="#1010f0"/><ellipse cx="157.1" cy="471.9" rx="2.48" ry="1.25" fill="#f01010"/></g>
<g clip-path="url(#cf20g)"><ellipse cx="123.7" cy="510.8" rx="2.48" ry="1.25" fill="#1010f0"/><ellipse cx="130.4" cy="510.8" rx="2.48" ry="1.25" fill="#f01010"/><ellipse cx="137.1" cy="510.8" rx="2.48" ry="1.25" fill="#1010f0"/><ellipse cx="143.8" cy="510.8" rx="2.48" ry="1.25" fill="#f01010"/><ellipse cx="150.5" cy="510.8" rx="2.48" ry="1.25" fill="#1010f0"/><ellipse cx="157.1" cy="510.8" rx="2.48" ry="1.25" fill="#f01010"/></g>
<clipPath id="cf20g"><rect x="122.1" y="452.6" width="38.20000000000002" height="77.60000000000002"/></clipPath>
<text x="159.0" y="462.7" text-anchor="end" font-family="Liberation Sans" font-weight="bold" font-size="6.5" fill="#111">λ=1338nm</text>
<text x="159.70000000000002" y="502.5" text-anchor="end" font-family="Liberation Sans" font-weight="bold" font-size="6.2" fill="#111">Reference</text>
<text x="94.2" y="447.4" text-anchor="middle" font-family="Liberation Sans" font-weight="bold" font-size="4.9" fill="#111" stroke="#111" stroke-width="0.25">90</text>
<text x="69.4" y="453.3" text-anchor="middle" font-family="Liberation Sans" font-weight="bold" font-size="4.9" fill="#111" stroke="#111" stroke-width="0.25">120</text>
<text x="53.5" y="469.1" text-anchor="middle" font-family="Liberation Sans" font-weight="bold" font-size="4.9" fill="#111" stroke="#111" stroke-width="0.25">150</text>
<text x="47.3" y="493.7" text-anchor="middle" font-family="Liberation Sans" font-weight="bold" font-size="4.9" fill="#111" stroke="#111" stroke-width="0.25">180</text>
<text x="53.3" y="518.2" text-anchor="middle" font-family="Liberation Sans" font-weight="bold" font-size="4.9" fill="#111" stroke="#111" stroke-width="0.25">210</text>
<text x="69.0" y="534.2" text-anchor="middle" font-family="Liberation Sans" font-weight="bold" font-size="4.9" fill="#111" stroke="#111" stroke-width="0.25">240</text>
<text x="94.0" y="540.1" text-anchor="middle" font-family="Liberation Sans" font-weight="bold" font-size="4.9" fill="#111" stroke="#111" stroke-width="0.25">270</text>
<text x="119.2" y="534.2" text-anchor="middle" font-family="Liberation Sans" font-weight="bold" font-size="4.9" fill="#111" stroke="#111" stroke-width="0.25">300</text>
<text x="135.4" y="518.5" text-anchor="middle" font-family="Liberation Sans" font-weight="bold" font-size="4.9" fill="#111" stroke="#111" stroke-width="0.25">330</text>
<text x="138.6" y="493.2" text-anchor="middle" font-family="Liberation Sans" font-weight="bold" font-size="4.9" fill="#111" stroke="#111" stroke-width="0.25">0</text>
<text x="134.0" y="468.8" text-anchor="middle" font-family="Liberation Sans" font-weight="bold" font-size="4.9" fill="#111" stroke="#111" stroke-width="0.25">30</text>
<text x="118.4" y="453.0" text-anchor="middle" font-family="Liberation Sans" font-weight="bold" font-size="4.9" fill="#111" stroke="#111" stroke-width="0.25">60</text>
<text x="95.8" y="484.5" text-anchor="middle" font-family="Liberation Sans" font-weight="bold" font-size="4.9" fill="#111" stroke="#111" stroke-width="0.25">2</text>
<text x="97.0" y="475.1" text-anchor="middle" font-family="Liberation Sans" font-weight="bold" font-size="4.9" fill="#111" stroke="#111" stroke-width="0.25">4</text>
<text x="98.9" y="465.8" text-anchor="middle" font-family="Liberation Sans" font-weight="bold" font-size="4.9" fill="#111" stroke="#111" stroke-width="0.25">6</text>
<text x="100.7" y="457.1" text-anchor="middle" font-family="Liberation Sans" font-weight="bold" font-size="4.9" fill="#111" stroke="#111" stroke-width="0.25">8</text>
<line x1="63.89999999999999" y1="467.1" x2="75.0" y2="467.1" stroke="#3a90dd" stroke-width="1.2"/>
<line x1="63.89999999999999" y1="472.1" x2="75.0" y2="472.1" stroke="#b02040" stroke-width="1.2"/>
<text x="75.69999999999999" y="468.8" font-family="Liberation Sans" font-weight="bold" font-size="4.7" fill="#111" stroke="#111" stroke-width="0.2" textLength="19.4" lengthAdjust="spacingAndGlyphs">Reference</text>
<text x="75.69999999999999" y="474.0" font-family="Liberation Sans" font-weight="bold" font-size="4.7" fill="#111" stroke="#111" stroke-width="0.2" textLength="20.5" lengthAdjust="spacingAndGlyphs">λ=1338nm</text>
<path d="M69.00,486.70 A12.60,5.30 0 0 0 69.00,497.30 A24.80,5.30 0 0 0 69.00,486.70Z" fill="none" stroke="#a8203e" stroke-width="1.4"/>
<ellipse cx="93.0" cy="492.0" rx="1.6999999999999997" ry="2.6" fill="none" stroke="#1a6ad8" stroke-width="1.2"/>
<text x="170.3" y="452.5" font-family="Liberation Serif" font-size="11.2" fill="#222">(c8)</text>
<g fill="none" stroke="#cfcfcf" stroke-width="0.6"><circle cx="219.8" cy="492.0" r="9.1"/><circle cx="219.8" cy="492.0" r="18.2"/><circle cx="219.8" cy="492.0" r="27.3"/><circle cx="219.8" cy="492.0" r="36.4"/><circle cx="219.8" cy="492.0" r="40.8"/><line x1="219.8" y1="492.0" x2="260.60" y2="492.00"/><line x1="219.8" y1="492.0" x2="255.13" y2="471.60"/><line x1="219.8" y1="492.0" x2="240.20" y2="456.67"/><line x1="219.8" y1="492.0" x2="219.80" y2="451.20"/><line x1="219.8" y1="492.0" x2="199.40" y2="456.67"/><line x1="219.8" y1="492.0" x2="184.47" y2="471.60"/><line x1="219.8" y1="492.0" x2="179.00" y2="492.00"/><line x1="219.8" y1="492.0" x2="184.47" y2="512.40"/><line x1="219.8" y1="492.0" x2="199.40" y2="527.33"/><line x1="219.8" y1="492.0" x2="219.80" y2="532.80"/><line x1="219.8" y1="492.0" x2="240.20" y2="527.33"/><line x1="219.8" y1="492.0" x2="255.13" y2="512.40"/></g>
<clipPath id="cf21"><rect x="229.6" y="452.6" width="18.400000000000006" height="38.699999999999974"/><rect x="229.6" y="492.7" width="18.400000000000006" height="37.50000000000004"/></clipPath>
<clipPath id="cf21u"><rect x="229.6" y="452.6" width="18.400000000000006" height="38.69999999999999"/></clipPath>
<g clip-path="url(#cf21u)"><g filter="url(#cmapP)"><rect x="226.6" y="449.6" width="24.400000000000006" height="44.69999999999999" fill="#b9b9b9"/><circle cx="248.0" cy="472.1" r="12" fill="#0d0d0d"/><circle cx="248.0" cy="472.1" r="4" fill="#ffffff"/></g><g filter="url(#bl04)"><rect x="244.5" y="458" width="2" height="5" fill="#ffee00"/><rect x="244" y="481" width="2" height="6" fill="#ffee00"/><rect x="243.5" y="468" width="1.5" height="8" fill="#ffee00"/></g></g>
<clipPath id="cf21l"><rect x="229.6" y="492.7" width="18.400000000000006" height="37.50000000000006"/></clipPath>
<g clip-path="url(#cf21l)"><g filter="url(#cmapP)"><rect x="226.6" y="489.7" width="24.400000000000006" height="43.50000000000006" fill="#464646"/><circle cx="248.0" cy="510.8" r="6" fill="#dfdfdf"/></g><g filter="url(#bl04)"></g></g>
<g clip-path="url(#cf21)" fill="none" stroke="#e4e4e4" stroke-width="0.6" opacity="0.8"><circle cx="219.8" cy="492.0" r="9.1"/><circle cx="219.8" cy="492.0" r="18.2"/><circle cx="219.8" cy="492.0" r="27.3"/><circle cx="219.8" cy="492.0" r="36.4"/><circle cx="219.8" cy="492.0" r="40.8"/><line x1="219.8" y1="492.0" x2="260.60" y2="492.00"/><line x1="219.8" y1="492.0" x2="255.13" y2="471.60"/><line x1="219.8" y1="492.0" x2="240.20" y2="456.67"/><line x1="219.8" y1="492.0" x2="219.80" y2="451.20"/><line x1="219.8" y1="492.0" x2="199.40" y2="456.67"/><line x1="219.8" y1="492.0" x2="184.47" y2="471.60"/><line x1="219.8" y1="492.0" x2="179.00" y2="492.00"/><line x1="219.8" y1="492.0" x2="184.47" y2="512.40"/><line x1="219.8" y1="492.0" x2="199.40" y2="527.33"/><line x1="219.8" y1="492.0" x2="219.80" y2="532.80"/><line x1="219.8" y1="492.0" x2="240.20" y2="527.33"/><line x1="219.8" y1="492.0" x2="255.13" y2="512.40"/></g>
<rect x="248.0" y="452.6" width="38.60000000000002" height="38.699999999999974" fill="#d1d1d1"/>
<rect x="248.0" y="492.7" width="38.60000000000002" height="37.50000000000004" fill="#d1d1d1"/>
<g clip-path="url(#cf21g)"><ellipse cx="249.6" cy="471.9" rx="3.02" ry="1.25" fill="#1010f0"/><ellipse cx="257.8" cy="471.9" rx="3.02" ry="1.25" fill="#f01010"/><ellipse cx="265.9" cy="471.9" rx="3.02" ry="1.25" fill="#1010f0"/><ellipse cx="274.1" cy="471.9" rx="3.02" ry="1.25" fill="#f01010"/><ellipse cx="282.3" cy="471.9" rx="3.02" ry="1.25" fill="#1010f0"/></g>
<g clip-path="url(#cf21g)"><ellipse cx="249.6" cy="510.8" rx="3.02" ry="1.25" fill="#1010f0"/><ellipse cx="257.8" cy="510.8" rx="3.02" ry="1.25" fill="#f01010"/><ellipse cx="265.9" cy="510.8" rx="3.02" ry="1.25" fill="#1010f0"/><ellipse cx="274.1" cy="510.8" rx="3.02" ry="1.25" fill="#f01010"/><ellipse cx="282.3" cy="510.8" rx="3.02" ry="1.25" fill="#1010f0"/></g>
<clipPath id="cf21g"><rect x="248.0" y="452.6" width="38.60000000000002" height="77.60000000000002"/></clipPath>
<text x="285.3" y="462.7" text-anchor="end" font-family="Liberation Sans" font-weight="bold" font-size="6.5" fill="#111">λ=1635nm</text>
<text x="286.0" y="502.5" text-anchor="end" font-family="Liberation Sans" font-weight="bold" font-size="6.2" fill="#111">Reference</text>
<text x="220.4" y="447.4" text-anchor="middle" font-family="Liberation Sans" font-weight="bold" font-size="4.9" fill="#111" stroke="#111" stroke-width="0.25">90</text>
<text x="195.6" y="453.3" text-anchor="middle" font-family="Liberation Sans" font-weight="bold" font-size="4.9" fill="#111" stroke="#111" stroke-width="0.25">120</text>
<text x="179.7" y="469.1" text-anchor="middle" font-family="Liberation Sans" font-weight="bold" font-size="4.9" fill="#111" stroke="#111" stroke-width="0.25">150</text>
<text x="173.5" y="493.7" text-anchor="middle" font-family="Liberation Sans" font-weight="bold" font-size="4.9" fill="#111" stroke="#111" stroke-width="0.25">180</text>
<text x="179.5" y="518.2" text-anchor="middle" font-family="Liberation Sans" font-weight="bold" font-size="4.9" fill="#111" stroke="#111" stroke-width="0.25">210</text>
<text x="195.2" y="534.2" text-anchor="middle" font-family="Liberation Sans" font-weight="bold" font-size="4.9" fill="#111" stroke="#111" stroke-width="0.25">240</text>
<text x="220.2" y="540.1" text-anchor="middle" font-family="Liberation Sans" font-weight="bold" font-size="4.9" fill="#111" stroke="#111" stroke-width="0.25">270</text>
<text x="245.4" y="534.2" text-anchor="middle" font-family="Liberation Sans" font-weight="bold" font-size="4.9" fill="#111" stroke="#111" stroke-width="0.25">300</text>
<text x="261.6" y="518.5" text-anchor="middle" font-family="Liberation Sans" font-weight="bold" font-size="4.9" fill="#111" stroke="#111" stroke-width="0.25">330</text>
<text x="264.8" y="493.2" text-anchor="middle" font-family="Liberation Sans" font-weight="bold" font-size="4.9" fill="#111" stroke="#111" stroke-width="0.25">0</text>
<text x="260.2" y="468.8" text-anchor="middle" font-family="Liberation Sans" font-weight="bold" font-size="4.9" fill="#111" stroke="#111" stroke-width="0.25">30</text>
<text x="244.6" y="453.0" text-anchor="middle" font-family="Liberation Sans" font-weight="bold" font-size="4.9" fill="#111" stroke="#111" stroke-width="0.25">60</text>
<text x="222.0" y="484.5" text-anchor="middle" font-family="Liberation Sans" font-weight="bold" font-size="4.9" fill="#111" stroke="#111" stroke-width="0.25">2</text>
<text x="223.2" y="475.1" text-anchor="middle" font-family="Liberation Sans" font-weight="bold" font-size="4.9" fill="#111" stroke="#111" stroke-width="0.25">4</text>
<text x="225.1" y="465.8" text-anchor="middle" font-family="Liberation Sans" font-weight="bold" font-size="4.9" fill="#111" stroke="#111" stroke-width="0.25">6</text>
<text x="226.9" y="457.1" text-anchor="middle" font-family="Liberation Sans" font-weight="bold" font-size="4.9" fill="#111" stroke="#111" stroke-width="0.25">8</text>
<line x1="190.10000000000002" y1="467.1" x2="201.20000000000002" y2="467.1" stroke="#3a90dd" stroke-width="1.2"/>
<line x1="190.10000000000002" y1="472.1" x2="201.20000000000002" y2="472.1" stroke="#b02040" stroke-width="1.2"/>
<text x="201.9" y="468.8" font-family="Liberation Sans" font-weight="bold" font-size="4.7" fill="#111" stroke="#111" stroke-width="0.2" textLength="19.4" lengthAdjust="spacingAndGlyphs">Reference</text>
<text x="201.9" y="474.0" font-family="Liberation Sans" font-weight="bold" font-size="4.7" fill="#111" stroke="#111" stroke-width="0.2" textLength="20.5" lengthAdjust="spacingAndGlyphs">λ=1635nm</text>
<path d="M191.50,486.00 A12.20,6.00 0 0 0 191.50,498.00 A26.60,6.00 0 0 0 191.50,486.00Z" fill="none" stroke="#a8203e" stroke-width="1.4"/>
<ellipse cx="219.20000000000002" cy="492.0" rx="1.6999999999999997" ry="3.1999999999999997" fill="none" stroke="#1a6ad8" stroke-width="1.2"/>
<text x="297.4" y="452.5" font-family="Liberation Serif" font-size="11.2" fill="#222">(c9)</text>
<g fill="none" stroke="#cfcfcf" stroke-width="0.6"><circle cx="342.4" cy="492.0" r="9.1"/><circle cx="342.4" cy="492.0" r="18.2"/><circle cx="342.4" cy="492.0" r="27.3"/><circle cx="342.4" cy="492.0" r="36.4"/><circle cx="342.4" cy="492.0" r="40.8"/><line x1="342.4" y1="492.0" x2="383.20" y2="492.00"/><line x1="342.4" y1="492.0" x2="377.73" y2="471.60"/><line x1="342.4" y1="492.0" x2="362.80" y2="456.67"/><line x1="342.4" y1="492.0" x2="342.40" y2="451.20"/><line x1="342.4" y1="492.0" x2="322.00" y2="456.67"/><line x1="342.4" y1="492.0" x2="307.07" y2="471.60"/><line x1="342.4" y1="492.0" x2="301.60" y2="492.00"/><line x1="342.4" y1="492.0" x2="307.07" y2="512.40"/><line x1="342.4" y1="492.0" x2="322.00" y2="527.33"/><line x1="342.4" y1="492.0" x2="342.40" y2="532.80"/><line x1="342.4" y1="492.0" x2="362.80" y2="527.33"/><line x1="342.4" y1="492.0" x2="377.73" y2="512.40"/></g>
<clipPath id="cf22"><rect x="352.4" y="452.6" width="19.200000000000045" height="38.699999999999974"/><rect x="352.4" y="492.7" width="19.200000000000045" height="37.50000000000004"/></clipPath>
<clipPath id="cf22u"><rect x="352.4" y="452.6" width="19.200000000000045" height="38.69999999999999"/></clipPath>
<g clip-path="url(#cf22u)"><g filter="url(#cmapP)"><rect x="349.4" y="449.6" width="25.200000000000045" height="44.69999999999999" fill="#393939"/><circle cx="371.6" cy="472.1" r="12" fill="#d9d9d9"/><circle cx="371.6" cy="472.1" r="5" fill="#ffffff"/></g><g filter="url(#bl04)"><ellipse cx="368" cy="468" rx="3" ry="10" fill="#ee3030" opacity="0.85"/><rect x="367.5" y="457" width="2.5" height="10" fill="#ffee00"/><rect x="367.5" y="479" width="2.5" height="9" fill="#ffee00"/></g></g>
<clipPath id="cf22l"><rect x="352.4" y="492.7" width="19.200000000000045" height="37.50000000000006"/></clipPath>
<g clip-path="url(#cf22l)"><g filter="url(#cmapP)"><rect x="349.4" y="489.7" width="25.200000000000045" height="43.50000000000006" fill="#6c6c6c"/><circle cx="371.6" cy="510.8" r="14" fill="#bfbfbf"/></g><g filter="url(#bl04)"></g></g>
<g clip-path="url(#cf22)" fill="none" stroke="#e4e4e4" stroke-width="0.6" opacity="0.8"><circle cx="342.4" cy="492.0" r="9.1"/><circle cx="342.4" cy="492.0" r="18.2"/><circle cx="342.4" cy="492.0" r="27.3"/><circle cx="342.4" cy="492.0" r="36.4"/><circle cx="342.4" cy="492.0" r="40.8"/><line x1="342.4" y1="492.0" x2="383.20" y2="492.00"/><line x1="342.4" y1="492.0" x2="377.73" y2="471.60"/><line x1="342.4" y1="492.0" x2="362.80" y2="456.67"/><line x1="342.4" y1="492.0" x2="342.40" y2="451.20"/><line x1="342.4" y1="492.0" x2="322.00" y2="456.67"/><line x1="342.4" y1="492.0" x2="307.07" y2="471.60"/><line x1="342.4" y1="492.0" x2="301.60" y2="492.00"/><line x1="342.4" y1="492.0" x2="307.07" y2="512.40"/><line x1="342.4" y1="492.0" x2="322.00" y2="527.33"/><line x1="342.4" y1="492.0" x2="342.40" y2="532.80"/><line x1="342.4" y1="492.0" x2="362.80" y2="527.33"/><line x1="342.4" y1="492.0" x2="377.73" y2="512.40"/></g>
<rect x="371.6" y="452.6" width="37.89999999999998" height="38.699999999999974" fill="#d1d1d1"/>
<rect x="371.6" y="492.7" width="37.89999999999998" height="37.50000000000004" fill="#d1d1d1"/>
<g clip-path="url(#cf22g)"><ellipse cx="373.2" cy="471.9" rx="3.90" ry="1.25" fill="#1010f0"/><ellipse cx="383.7" cy="471.9" rx="3.90" ry="1.25" fill="#f01010"/><ellipse cx="394.3" cy="471.9" rx="3.90" ry="1.25" fill="#1010f0"/><ellipse cx="404.8" cy="471.9" rx="3.90" ry="1.25" fill="#f01010"/></g>
<g clip-path="url(#cf22g)"><ellipse cx="373.2" cy="510.8" rx="3.90" ry="1.25" fill="#1010f0"/><ellipse cx="383.7" cy="510.8" rx="3.90" ry="1.25" fill="#f01010"/><ellipse cx="394.3" cy="510.8" rx="3.90" ry="1.25" fill="#1010f0"/><ellipse cx="404.8" cy="510.8" rx="3.90" ry="1.25" fill="#f01010"/></g>
<clipPath id="cf22g"><rect x="371.6" y="452.6" width="37.89999999999998" height="77.60000000000002"/></clipPath>
<text x="408.2" y="462.7" text-anchor="end" font-family="Liberation Sans" font-weight="bold" font-size="6.5" fill="#111">λ=2108nm</text>
<text x="408.9" y="502.5" text-anchor="end" font-family="Liberation Sans" font-weight="bold" font-size="6.2" fill="#111">Reference</text>
<text x="343.0" y="447.4" text-anchor="middle" font-family="Liberation Sans" font-weight="bold" font-size="4.9" fill="#111" stroke="#111" stroke-width="0.25">90</text>
<text x="318.2" y="453.3" text-anchor="middle" font-family="Liberation Sans" font-weight="bold" font-size="4.9" fill="#111" stroke="#111" stroke-width="0.25">120</text>
<text x="302.3" y="469.1" text-anchor="middle" font-family="Liberation Sans" font-weight="bold" font-size="4.9" fill="#111" stroke="#111" stroke-width="0.25">150</text>
<text x="296.1" y="493.7" text-anchor="middle" font-family="Liberation Sans" font-weight="bold" font-size="4.9" fill="#111" stroke="#111" stroke-width="0.25">180</text>
<text x="302.1" y="518.2" text-anchor="middle" font-family="Liberation Sans" font-weight="bold" font-size="4.9" fill="#111" stroke="#111" stroke-width="0.25">210</text>
<text x="317.8" y="534.2" text-anchor="middle" font-family="Liberation Sans" font-weight="bold" font-size="4.9" fill="#111" stroke="#111" stroke-width="0.25">240</text>
<text x="342.8" y="540.1" text-anchor="middle" font-family="Liberation Sans" font-weight="bold" font-size="4.9" fill="#111" stroke="#111" stroke-width="0.25">270</text>
<text x="368.0" y="534.2" text-anchor="middle" font-family="Liberation Sans" font-weight="bold" font-size="4.9" fill="#111" stroke="#111" stroke-width="0.25">300</text>
<text x="384.2" y="518.5" text-anchor="middle" font-family="Liberation Sans" font-weight="bold" font-size="4.9" fill="#111" stroke="#111" stroke-width="0.25">330</text>
<text x="387.4" y="493.2" text-anchor="middle" font-family="Liberation Sans" font-weight="bold" font-size="4.9" fill="#111" stroke="#111" stroke-width="0.25">0</text>
<text x="382.8" y="468.8" text-anchor="middle" font-family="Liberation Sans" font-weight="bold" font-size="4.9" fill="#111" stroke="#111" stroke-width="0.25">30</text>
<text x="367.2" y="453.0" text-anchor="middle" font-family="Liberation Sans" font-weight="bold" font-size="4.9" fill="#111" stroke="#111" stroke-width="0.25">60</text>
<text x="344.6" y="484.5" text-anchor="middle" font-family="Liberation Sans" font-weight="bold" font-size="4.9" fill="#111" stroke="#111" stroke-width="0.25">2</text>
<text x="345.8" y="475.1" text-anchor="middle" font-family="Liberation Sans" font-weight="bold" font-size="4.9" fill="#111" stroke="#111" stroke-width="0.25">4</text>
<text x="347.7" y="465.8" text-anchor="middle" font-family="Liberation Sans" font-weight="bold" font-size="4.9" fill="#111" stroke="#111" stroke-width="0.25">6</text>
<text x="349.5" y="457.1" text-anchor="middle" font-family="Liberation Sans" font-weight="bold" font-size="4.9" fill="#111" stroke="#111" stroke-width="0.25">8</text>
<line x1="312.7" y1="467.1" x2="323.79999999999995" y2="467.1" stroke="#3a90dd" stroke-width="1.2"/>
<line x1="312.7" y1="472.1" x2="323.79999999999995" y2="472.1" stroke="#b02040" stroke-width="1.2"/>
<text x="324.5" y="468.8" font-family="Liberation Sans" font-weight="bold" font-size="4.7" fill="#111" stroke="#111" stroke-width="0.2" textLength="19.4" lengthAdjust="spacingAndGlyphs">Reference</text>
<text x="324.5" y="474.0" font-family="Liberation Sans" font-weight="bold" font-size="4.7" fill="#111" stroke="#111" stroke-width="0.2" textLength="20.5" lengthAdjust="spacingAndGlyphs">λ=2108nm</text>
<path d="M316.60,484.10 A13.00,7.90 0 0 0 316.60,499.90 A26.60,7.90 0 0 0 316.60,484.10Z" fill="none" stroke="#a8203e" stroke-width="1.4"/>
<ellipse cx="341.79999999999995" cy="492.0" rx="2.4" ry="3.3" fill="none" stroke="#1a6ad8" stroke-width="1.2"/>
<line x1="40" y1="328.3" x2="416" y2="328.3" stroke="#25bd62" stroke-width="1.5" stroke-dasharray="8 4"/>
<line x1="40" y1="438.4" x2="416" y2="438.4" stroke="#25bd62" stroke-width="1.5" stroke-dasharray="8 4"/>
<line x1="165.4" y1="222.9" x2="165.4" y2="526" stroke="#25bd62" stroke-width="1.5" stroke-dasharray="8.3 3.7"/>
<line x1="292.6" y1="222.9" x2="292.6" y2="526" stroke="#25bd62" stroke-width="1.5" stroke-dasharray="8.3 3.7"/>
</svg>
</body></html>
